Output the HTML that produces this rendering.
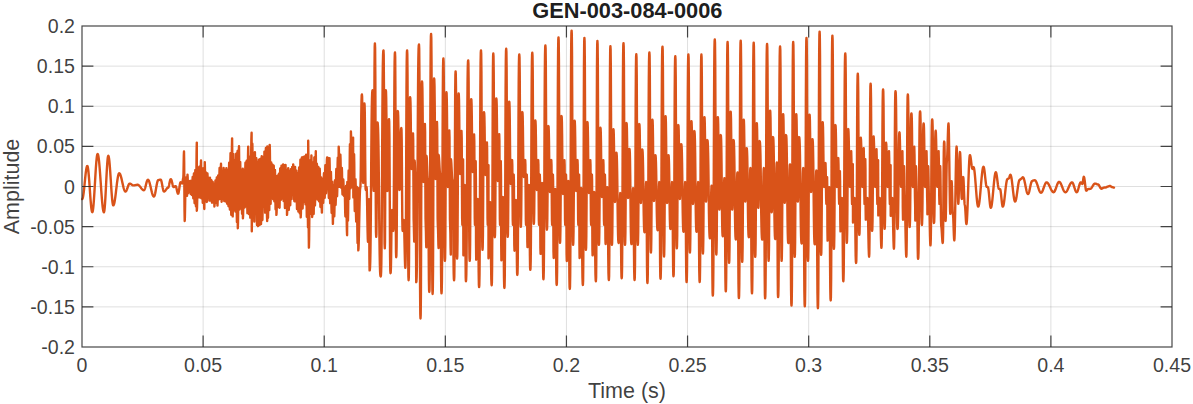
<!DOCTYPE html>
<html><head><meta charset="utf-8"><title>GEN-003-084-0006</title>
<style>html,body{margin:0;padding:0;background:#fff;overflow:hidden}svg{display:block}</style></head>
<body>
<svg width="1193" height="404" viewBox="0 0 1193 404">
<rect width="1193" height="404" fill="#fff"/>
<path d="M203.11,26 V347 M324.22,26 V347 M445.33,26 V347 M566.44,26 V347 M687.56,26 V347 M808.67,26 V347 M929.78,26 V347 M1050.89,26 V347 M82,66.12 H1172 M82,106.25 H1172 M82,146.38 H1172 M82,186.50 H1172 M82,226.62 H1172 M82,266.75 H1172 M82,306.88 H1172" stroke="#262626" stroke-opacity="0.15" stroke-width="1" fill="none"/>
<path d="M82.20,199.00 82.41,198.86 82.62,198.44 82.84,197.74 83.05,196.79 83.26,195.59 83.47,194.16 83.69,192.54 83.90,190.75 84.11,188.81 84.33,186.76 84.54,184.64 84.75,182.49 84.96,180.34 85.17,178.22 85.39,176.17 85.60,174.24 85.81,172.44 86.03,170.82 86.24,169.39 86.45,168.19 86.66,167.24 86.88,166.54 87.09,166.12 87.30,165.98 87.52,166.20 87.73,166.84 87.95,167.89 88.17,169.35 88.39,171.17 88.60,173.32 88.82,175.77 89.04,178.46 89.26,181.36 89.47,184.40 89.69,187.52 89.91,190.68 90.13,193.80 90.34,196.84 90.56,199.74 90.78,202.43 91.00,204.88 91.21,207.03 91.43,208.85 91.65,210.31 91.87,211.36 92.08,212.00 92.30,212.22 92.51,211.99 92.72,211.31 92.94,210.18 93.15,208.62 93.36,206.66 93.57,204.33 93.78,201.66 94.00,198.70 94.21,195.50 94.42,192.10 94.63,188.56 94.84,184.93 95.06,181.27 95.27,177.64 95.48,174.10 95.69,170.70 95.90,167.50 96.12,164.54 96.33,161.87 96.54,159.54 96.75,157.58 96.96,156.02 97.18,154.89 97.39,154.21 97.60,153.98 97.82,154.15 98.03,154.66 98.25,155.50 98.47,156.67 98.69,158.15 98.90,159.92 99.12,161.96 99.34,164.25 99.56,166.76 99.77,169.46 99.99,172.32 100.21,175.31 100.42,178.39 100.64,181.52 100.86,184.68 101.08,187.81 101.29,190.89 101.51,193.88 101.73,196.74 101.94,199.44 102.16,201.95 102.38,204.24 102.60,206.28 102.81,208.05 103.03,209.53 103.25,210.70 103.47,211.54 103.68,212.05 103.90,212.22 104.12,211.87 104.34,210.84 104.56,209.15 104.78,206.84 105.00,203.97 105.22,200.61 105.44,196.84 105.66,192.76 105.88,188.46 106.10,184.05 106.32,179.64 106.54,175.34 106.76,171.26 106.98,167.49 107.20,164.13 107.42,161.26 107.64,158.95 107.86,157.26 108.08,156.23 108.30,155.88 108.52,156.11 108.73,156.80 108.95,157.93 109.17,159.48 109.39,161.42 109.60,163.73 109.82,166.34 110.04,169.23 110.26,172.32 110.47,175.57 110.69,178.91 110.91,182.29 111.13,185.63 111.34,188.88 111.56,191.97 111.78,194.86 112.00,197.47 112.21,199.78 112.43,201.72 112.65,203.27 112.87,204.40 113.08,205.09 113.30,205.32 113.52,205.21 113.74,204.89 113.96,204.35 114.17,203.62 114.39,202.68 114.61,201.57 114.83,200.29 115.05,198.87 115.27,197.31 115.49,195.65 115.70,193.89 115.92,192.08 116.14,190.23 116.36,188.37 116.58,186.52 116.80,184.71 117.01,182.95 117.23,181.29 117.45,179.73 117.67,178.31 117.89,177.03 118.11,175.92 118.33,174.98 118.54,174.25 118.76,173.71 118.98,173.39 119.20,173.28 119.42,173.33 119.63,173.49 119.85,173.76 120.07,174.12 120.29,174.59 120.50,175.14 120.72,175.78 120.94,176.50 121.16,177.28 121.37,178.13 121.59,179.02 121.81,179.96 122.02,180.92 122.24,181.91 122.46,182.89 122.68,183.88 122.89,184.84 123.11,185.78 123.33,186.67 123.54,187.52 123.76,188.30 123.98,189.02 124.20,189.66 124.41,190.21 124.63,190.68 124.85,191.04 125.07,191.31 125.28,191.47 125.50,191.52 125.71,191.47 125.92,191.33 126.13,191.09 126.34,190.76 126.55,190.36 126.76,189.88 126.97,189.35 127.18,188.78 127.39,188.17 127.60,187.55 127.81,186.93 128.02,186.32 128.23,185.75 128.44,185.22 128.65,184.74 128.86,184.34 129.07,184.01 129.28,183.77 129.49,183.63 129.70,183.58 129.92,183.60 130.14,183.64 130.35,183.72 130.57,183.82 130.79,183.95 131.01,184.09 131.22,184.25 131.44,184.42 131.66,184.58 131.88,184.75 132.09,184.91 132.31,185.05 132.53,185.18 132.75,185.28 132.96,185.36 133.18,185.40 133.40,185.42 133.61,185.42 133.82,185.40 134.03,185.39 134.24,185.36 134.45,185.33 134.66,185.29 134.87,185.25 135.08,185.20 135.29,185.15 135.50,185.10 135.71,185.05 135.92,185.00 136.13,184.95 136.34,184.91 136.55,184.87 136.76,184.84 136.97,184.81 137.18,184.80 137.39,184.78 137.60,184.78 137.82,184.80 138.03,184.84 138.25,184.92 138.47,185.03 138.69,185.17 138.90,185.33 139.12,185.53 139.34,185.74 139.56,185.97 139.77,186.23 139.99,186.49 140.21,186.77 140.42,187.06 140.64,187.35 140.86,187.65 141.08,187.94 141.29,188.23 141.51,188.51 141.73,188.77 141.94,189.03 142.16,189.26 142.38,189.47 142.60,189.67 142.81,189.83 143.03,189.97 143.25,190.08 143.47,190.16 143.68,190.20 143.90,190.22 144.11,190.15 144.32,189.94 144.53,189.59 144.74,189.12 144.95,188.54 145.16,187.86 145.37,187.10 145.58,186.28 145.79,185.43 146.01,184.57 146.22,183.72 146.43,182.90 146.64,182.14 146.85,181.46 147.06,180.88 147.27,180.41 147.48,180.06 147.69,179.85 147.90,179.78 148.11,179.83 148.33,179.99 148.54,180.25 148.76,180.61 148.97,181.06 149.19,181.61 149.40,182.23 149.61,182.93 149.83,183.70 150.04,184.52 150.26,185.39 150.47,186.29 150.69,187.21 150.90,188.15 151.11,189.09 151.33,190.01 151.54,190.91 151.76,191.78 151.97,192.60 152.19,193.37 152.40,194.07 152.61,194.69 152.83,195.24 153.04,195.69 153.26,196.05 153.47,196.31 153.69,196.47 153.90,196.52 154.11,196.43 154.32,196.15 154.53,195.71 154.74,195.09 154.95,194.33 155.16,193.43 155.37,192.41 155.58,191.30 155.79,190.13 156.00,188.91 156.20,187.69 156.41,186.47 156.62,185.30 156.83,184.19 157.04,183.17 157.25,182.27 157.46,181.51 157.67,180.89 157.88,180.45 158.09,180.17 158.30,180.08 158.51,180.07 158.72,180.04 158.93,180.00 159.14,179.94 159.35,179.87 159.55,179.81 159.76,179.74 159.97,179.68 160.18,179.64 160.39,179.61 160.60,179.60 160.81,179.71 161.03,180.05 161.24,180.60 161.45,181.35 161.66,182.25 161.88,183.28 162.09,184.40 162.30,185.56 162.51,186.72 162.72,187.84 162.94,188.87 163.15,189.77 163.36,190.52 163.57,191.07 163.79,191.41 164.00,191.52 164.21,191.49 164.42,191.42 164.63,191.30 164.84,191.13 165.05,190.92 165.26,190.68 165.47,190.41 165.68,190.12 165.89,189.81 166.11,189.51 166.32,189.20 166.53,188.91 166.74,188.64 166.95,188.40 167.16,188.19 167.37,188.02 167.58,187.90 167.79,187.83 168.00,187.80 168.22,187.67 168.43,187.31 168.65,186.72 168.86,185.94 169.08,185.02 169.29,184.01 169.51,182.97 169.72,181.96 169.94,181.04 170.15,180.26 170.37,179.67 170.58,179.31 170.80,179.18 171.01,179.28 171.21,179.57 171.42,180.05 171.63,180.67 171.84,181.43 172.04,182.27 172.25,183.15 172.46,184.03 172.66,184.87 172.87,185.63 173.08,186.25 173.29,186.73 173.49,187.02 173.70,187.12 173.91,187.09 174.12,187.00 174.33,186.86 174.54,186.69 174.76,186.51 174.97,186.34 175.18,186.20 175.39,186.11 175.60,186.08 175.81,186.21 176.02,186.59 176.22,187.20 176.43,187.99 176.64,188.91 176.85,189.90 177.06,190.89 177.27,191.81 177.47,192.60 177.68,193.21 177.89,193.59 178.10,193.72 178.31,193.53 178.52,192.95 178.72,192.04 178.93,190.86 179.14,189.48 179.35,188.00 179.56,186.52 179.77,185.14 179.97,183.96 180.18,183.05 180.39,182.47 180.60,182.28 180.80,182.32 181.00,182.45 181.20,182.63 181.40,182.85 181.60,183.07 181.80,183.25 182.00,183.38 182.20,183.42 182.38,183.06 182.57,182.06 182.75,180.71 182.93,179.35 183.12,178.36 183.30,178.00 183.48,174.12 183.65,164.74 183.82,155.36 184.00,151.48 184.18,161.66 184.35,186.25 184.52,210.84 184.70,221.02 184.88,217.68 185.06,208.92 185.24,198.10 185.42,189.34 185.60,186.00 185.80,183.89 186.00,179.66 186.20,177.54 186.40,180.23 186.60,186.73 186.80,193.23 187.00,195.92 187.17,190.61 187.33,179.99 187.50,174.68 187.67,177.39 187.84,183.95 188.01,190.50 188.18,193.21 188.38,190.18 188.59,184.10 188.79,181.07 188.96,182.64 189.13,186.43 189.31,190.22 189.48,191.80 189.70,189.11 189.92,183.74 190.14,181.06 190.34,184.32 190.54,190.84 190.75,194.10 190.92,192.14 191.09,187.39 191.26,182.64 191.43,180.67 191.63,184.28 191.83,191.51 192.03,195.12 192.20,192.44 192.37,185.98 192.53,179.52 192.70,176.84 192.91,182.23 193.11,193.01 193.31,198.40 193.52,192.16 193.72,179.67 193.93,173.43 194.09,177.80 194.26,188.36 194.43,198.92 194.60,203.30 194.78,198.42 194.96,186.64 195.14,174.86 195.33,169.98 195.53,179.05 195.74,197.19 195.95,206.26 196.16,196.94 196.37,174.42 196.59,151.91 196.80,142.58 196.80,210.72 197.01,207.86 197.21,200.05 197.42,189.38 197.62,178.71 197.83,170.90 198.04,168.04 198.21,172.32 198.38,182.67 198.55,193.02 198.73,197.30 198.89,192.83 199.06,182.04 199.23,171.24 199.39,166.77 199.58,171.28 199.77,182.18 199.96,193.07 200.15,197.58 200.36,192.15 200.57,179.03 200.79,165.91 201.00,160.48 201.16,169.93 201.33,188.82 201.49,198.27 201.71,190.77 201.92,175.78 202.14,168.29 202.35,176.89 202.55,194.10 202.76,202.70 202.97,194.12 203.17,176.97 203.38,168.40 203.56,172.28 203.75,182.43 203.93,194.98 204.12,205.14 204.30,209.02 204.47,197.28 204.63,173.81 204.80,162.08 205.00,171.89 205.19,191.52 205.39,201.34 205.56,197.11 205.74,186.89 205.91,176.67 206.08,172.44 206.26,176.77 206.43,187.23 206.61,197.69 206.78,202.03 207.00,194.91 207.22,180.68 207.44,173.56 207.62,176.88 207.79,184.88 207.96,192.89 208.13,196.20 208.34,191.61 208.54,182.41 208.74,177.82 208.94,183.52 209.15,194.93 209.35,200.63 209.56,194.92 209.77,183.48 209.98,177.76 210.16,181.08 210.34,189.10 210.52,197.12 210.69,200.44 210.86,197.48 211.03,190.34 211.19,183.20 211.36,180.24 211.58,185.85 211.80,197.09 212.01,202.70 212.19,199.66 212.36,192.30 212.53,184.94 212.71,181.90 212.87,184.90 213.04,192.14 213.21,199.38 213.38,202.38 213.59,197.85 213.81,188.80 214.03,184.27 214.21,195.39 214.40,206.52 214.61,204.04 214.83,197.54 215.04,189.50 215.25,183.00 215.46,180.51 215.68,186.12 215.89,197.32 216.10,202.92 216.28,199.21 216.45,190.25 216.62,181.28 216.80,177.57 216.97,181.68 217.14,191.61 217.31,201.54 217.48,205.65 217.66,201.21 217.85,190.50 218.03,179.79 218.22,175.35 218.40,178.86 218.58,187.35 218.76,195.83 218.94,199.35 219.15,191.52 219.37,175.88 219.58,168.06 219.77,172.55 219.96,183.40 220.15,194.25 220.34,198.74 220.50,193.62 220.67,181.26 220.83,168.90 221.00,163.78 221.21,173.27 221.42,192.24 221.63,201.72 221.81,197.40 221.99,186.96 222.17,176.53 222.35,172.20 222.55,178.88 222.76,192.23 222.97,198.90 223.14,194.36 223.31,183.41 223.48,172.45 223.65,167.91 223.85,176.18 224.05,192.74 224.26,201.01 224.43,196.49 224.61,185.56 224.79,174.64 224.96,170.11 225.14,174.71 225.32,185.82 225.50,196.93 225.68,201.53 225.86,196.63 226.03,184.82 226.20,173.01 226.38,168.12 226.56,173.33 226.75,185.91 226.93,198.49 227.12,203.70 227.33,195.37 227.55,178.71 227.77,170.39 227.94,175.65 228.12,188.36 228.30,201.07 228.48,206.33 228.65,199.95 228.83,184.55 229.00,169.16 229.17,162.78 229.35,169.61 229.52,186.10 229.69,202.60 229.87,209.43 230.03,201.18 230.20,181.26 230.37,161.34 230.54,153.09 230.72,162.13 230.91,183.94 231.09,205.76 231.27,214.80 231.48,203.60 231.69,176.59 231.89,149.57 232.10,138.38 232.30,157.88 232.50,196.88 232.70,216.37 232.88,207.24 233.05,185.17 233.23,163.11 233.41,153.97 233.61,168.02 233.81,196.12 234.02,210.17 234.19,202.94 234.37,185.48 234.55,168.02 234.73,160.79 234.90,168.21 235.08,186.11 235.26,204.01 235.43,211.43 235.62,202.97 235.81,182.56 236.00,162.14 236.19,153.69 236.37,163.68 236.56,187.81 236.74,211.95 236.92,221.94 237.14,204.22 237.35,168.79 237.57,151.07 237.68,189.69 237.80,228.32 238.00,222.82 238.20,207.78 238.40,187.25 238.60,166.72 238.80,151.68 239.00,146.18 239.18,162.00 239.36,193.63 239.54,209.45 239.71,202.51 239.88,185.75 240.05,168.99 240.21,162.05 240.42,172.16 240.63,192.38 240.84,202.50 241.05,194.70 241.25,179.11 241.46,171.31 241.66,181.90 241.87,203.06 242.07,213.64 242.25,207.08 242.43,191.23 242.61,175.37 242.79,168.81 242.90,218.32 243.09,215.09 243.28,206.28 243.48,194.24 243.67,182.20 243.86,173.38 244.05,170.16 244.22,175.64 244.38,188.86 244.55,202.09 244.71,207.57 244.90,201.00 245.08,185.15 245.27,169.29 245.45,162.72 245.66,173.59 245.86,195.34 246.07,206.21 246.23,199.53 246.40,183.41 246.57,167.29 246.74,160.62 246.91,168.31 247.08,186.89 247.25,205.46 247.43,213.16 247.62,203.41 247.81,179.87 248.01,156.33 248.20,146.58 248.37,156.46 248.55,180.30 248.72,204.14 248.90,214.01 249.08,205.65 249.27,185.45 249.45,165.25 249.64,156.88 249.85,172.07 250.07,202.46 250.28,217.66 250.50,211.97 250.72,196.44 250.94,175.22 251.16,154.00 251.38,138.47 251.60,132.78 251.80,231.22 251.98,209.34 252.16,165.57 252.35,143.68 252.54,154.22 252.72,179.66 252.91,205.10 253.10,215.63 253.31,200.72 253.52,170.91 253.72,156.00 253.93,172.38 254.14,205.14 254.35,221.53 254.54,204.16 254.72,169.44 254.90,152.08 255.08,161.11 255.26,182.93 255.45,204.74 255.63,213.77 255.80,205.62 255.97,185.93 256.14,166.25 256.30,158.09 256.48,167.87 256.65,191.48 256.83,215.08 257.00,224.86 257.21,209.27 257.43,178.08 257.64,162.49 257.82,194.30 258.00,226.12 258.18,219.78 258.36,203.16 258.55,182.63 258.73,166.02 258.91,159.68 259.13,176.02 259.35,208.70 259.57,225.04 259.74,215.36 259.91,191.98 260.09,168.61 260.26,158.92 260.45,168.48 260.63,191.55 260.82,214.62 261.01,224.17 261.19,214.23 261.37,190.24 261.54,166.25 261.72,156.31 261.89,165.66 262.06,188.23 262.23,210.79 262.40,220.14 262.58,211.00 262.75,188.95 262.93,166.90 263.10,157.76 263.28,164.96 263.46,182.34 263.63,199.71 263.81,206.91 264.01,193.08 264.22,165.41 264.42,151.58 264.61,160.53 264.79,182.12 264.98,203.71 265.16,212.65 265.34,203.18 265.53,180.31 265.71,157.45 265.89,147.97 266.11,152.87 266.33,166.26 266.54,184.55 266.76,202.83 266.98,216.22 267.20,221.12 267.36,146.36 267.52,156.81 267.69,182.04 267.85,207.26 268.02,217.71 268.18,208.09 268.35,184.86 268.52,161.64 268.68,152.02 268.89,166.49 269.09,195.45 269.30,209.93 269.50,177.41 269.70,144.88 269.88,150.51 270.06,165.26 270.25,183.50 270.43,198.25 270.61,203.88 270.81,193.53 271.02,172.83 271.22,162.48 271.43,171.27 271.64,188.87 271.85,197.66 272.06,189.42 272.27,172.95 272.48,164.71 272.70,173.31 272.92,190.51 273.14,199.11 273.34,190.77 273.54,174.11 273.74,165.78 273.94,174.65 274.14,192.40 274.34,201.28 274.55,193.47 274.76,177.83 274.97,170.02 275.17,179.81 275.38,199.40 275.58,209.19 275.80,200.98 276.02,184.58 276.24,176.37 276.40,214.92 276.60,212.29 276.80,205.11 276.99,195.31 277.19,185.50 277.39,178.32 277.59,175.69 277.76,180.26 277.94,191.29 278.11,202.32 278.28,206.89 278.49,198.62 278.70,182.07 278.91,173.79 279.12,182.30 279.34,199.31 279.55,207.82 279.77,198.00 279.99,178.35 280.20,168.53 280.42,176.36 280.64,192.02 280.86,199.85 281.07,191.31 281.28,174.23 281.48,165.69 281.67,170.51 281.85,182.14 282.03,193.78 282.22,198.60 282.39,195.33 282.57,186.77 282.75,176.20 282.92,167.65 283.10,164.38 283.28,173.52 283.47,191.80 283.65,200.94 283.82,195.70 283.99,183.04 284.16,170.39 284.33,165.15 284.53,175.89 284.74,197.36 284.94,208.10 285.15,197.34 285.35,175.83 285.56,165.07 285.78,175.47 286.00,196.26 286.21,206.66 286.43,197.60 286.64,179.48 286.86,170.41 287.00,214.92 287.20,211.78 287.40,203.22 287.61,191.52 287.81,179.82 288.01,171.25 288.21,168.11 288.42,178.54 288.62,199.41 288.82,209.84 289.01,204.19 289.19,190.55 289.38,176.92 289.57,171.27 289.74,176.25 289.91,188.26 290.08,200.28 290.25,205.26 290.46,196.27 290.67,178.29 290.88,169.30 291.05,173.66 291.22,184.21 291.39,194.75 291.57,199.12 291.77,191.07 291.97,174.98 292.17,166.94 292.34,170.93 292.51,180.56 292.68,190.19 292.85,194.18 293.03,179.28 293.20,164.38 293.39,166.84 293.58,173.58 293.77,182.78 293.97,191.98 294.16,198.71 294.35,201.18 294.53,196.15 294.70,184.01 294.88,171.87 295.06,166.84 295.27,175.45 295.49,192.66 295.70,201.27 295.92,193.60 296.14,178.27 296.36,170.60 296.57,180.21 296.78,199.44 296.99,209.06 297.17,203.79 297.35,191.08 297.53,178.37 297.71,173.11 297.88,178.75 298.05,192.36 298.22,205.98 298.40,211.62 298.58,205.14 298.76,189.52 298.94,173.90 299.12,167.43 299.34,178.89 299.56,201.82 299.77,213.28 299.99,199.91 300.20,173.16 300.41,159.79 300.55,188.61 300.70,217.42 300.90,213.41 301.10,202.44 301.30,187.46 301.50,172.48 301.70,161.51 301.90,157.50 302.08,164.96 302.26,182.98 302.45,201.00 302.63,208.46 302.82,200.92 303.00,182.72 303.18,164.52 303.36,156.98 303.54,163.53 303.73,179.36 303.91,195.18 304.09,201.74 304.27,195.09 304.45,179.03 304.63,162.98 304.81,156.33 305.02,168.33 305.24,192.34 305.45,204.34 305.62,197.06 305.79,179.50 305.96,161.94 306.13,154.66 306.35,170.21 306.57,201.30 306.79,216.85 306.99,201.35 307.19,170.35 307.39,154.85 307.59,172.93 307.79,209.10 308.00,227.18 308.20,140.68 308.38,156.34 308.55,194.15 308.72,231.96 308.90,247.62 309.12,239.29 309.34,217.46 309.56,190.49 309.77,168.67 309.99,160.34 310.18,168.15 310.37,187.01 310.56,205.87 310.75,213.68 310.91,205.16 311.08,184.59 311.25,164.01 311.42,155.49 311.61,164.51 311.79,186.29 311.98,208.07 312.17,217.09 312.36,209.12 312.55,189.88 312.74,170.64 312.93,162.67 313.11,170.20 313.30,188.39 313.49,206.57 313.68,214.10 313.90,199.92 314.12,171.56 314.34,157.39 314.55,169.40 314.76,193.42 314.97,205.43 315.18,197.50 315.39,178.35 315.59,159.21 315.80,151.28 315.95,162.91 316.09,186.16 316.24,197.79 316.45,189.28 316.66,172.27 316.87,163.77 317.05,169.02 317.22,181.69 317.40,194.37 317.57,199.62 317.76,194.84 317.94,183.31 318.13,171.78 318.32,167.01 318.50,172.04 318.68,184.19 318.87,196.34 319.05,201.37 319.22,196.59 319.39,185.05 319.56,173.50 319.73,168.72 319.90,174.31 320.08,187.82 320.26,201.33 320.43,206.93 320.61,202.60 320.80,192.14 320.98,181.69 321.16,177.36 321.35,182.53 321.53,194.99 321.72,207.46 321.90,212.62 322.09,204.48 322.29,188.20 322.48,180.06 322.67,183.41 322.85,191.49 323.04,199.57 323.23,202.92 323.41,198.57 323.59,188.07 323.77,177.56 323.95,173.21 324.13,176.82 324.31,185.54 324.49,194.25 324.67,197.86 324.84,193.09 325.01,181.58 325.18,170.06 325.35,165.29 325.56,172.31 325.77,186.34 325.98,193.35 326.16,190.95 326.35,184.38 326.54,175.42 326.73,166.45 326.91,159.88 327.10,157.48 327.23,172.83 327.35,188.19 327.54,183.75 327.72,173.03 327.90,162.31 328.08,157.87 328.27,163.74 328.46,177.92 328.65,192.11 328.84,197.98 329.00,192.15 329.17,178.06 329.34,163.97 329.50,158.13 329.67,164.73 329.83,180.64 330.00,196.56 330.17,203.15 330.35,198.57 330.54,187.52 330.73,176.46 330.92,171.88 331.10,177.91 331.28,192.47 331.45,207.03 331.63,213.06 331.84,205.19 332.05,189.45 332.26,181.58 332.47,192.16 332.69,213.33 332.90,223.92 333.10,214.37 333.30,195.26 333.51,185.71 333.69,190.20 333.88,201.06 334.06,211.92 334.25,216.42 334.43,211.11 334.61,198.30 334.80,185.49 334.98,180.18 335.19,186.38 335.39,198.76 335.60,204.96 335.79,199.68 335.97,186.95 336.15,174.23 336.33,168.95 336.52,172.94 336.71,182.57 336.90,192.20 337.09,196.19 337.27,190.54 337.44,176.90 337.62,163.26 337.80,157.61 338.02,164.94 338.23,179.59 338.45,186.92 338.58,166.80 338.70,146.68 338.91,150.52 339.12,160.57 339.34,173.00 339.55,183.05 339.76,186.89 339.96,178.84 340.16,162.72 340.36,154.67 340.55,159.51 340.74,171.19 340.93,182.87 341.12,187.70 341.30,184.81 341.47,177.81 341.65,170.81 341.82,167.91 341.99,171.80 342.17,181.17 342.34,190.55 342.51,194.44 342.69,192.23 342.88,186.90 343.07,181.56 343.26,179.35 343.42,181.78 343.59,187.64 343.76,193.49 343.93,195.92 344.11,194.81 344.30,192.12 344.48,189.44 344.67,188.33 344.85,192.46 345.03,202.43 345.21,212.40 345.40,216.53 345.61,208.91 345.82,193.68 346.03,186.06 346.25,190.76 346.46,203.05 346.67,218.24 346.89,230.53 347.10,235.22 347.32,181.89 347.53,191.59 347.74,210.99 347.96,220.69 348.13,213.34 348.30,195.60 348.48,177.86 348.65,170.51 348.86,177.66 349.08,191.94 349.29,199.08 349.46,191.04 349.63,171.61 349.79,152.19 349.96,144.14 350.17,155.15 350.37,177.18 350.58,188.19 350.74,159.83 350.90,131.48 351.12,136.79 351.33,150.70 351.55,167.89 351.77,181.80 351.98,187.12 352.17,183.80 352.36,174.73 352.54,162.35 352.73,149.96 352.91,140.90 353.10,137.58 353.22,167.50 353.35,197.41 353.54,191.10 353.72,175.86 353.91,160.62 354.09,154.30 354.26,162.60 354.43,182.64 354.59,202.67 354.76,210.97 354.95,206.32 355.13,195.08 355.32,183.85 355.51,179.20 355.68,185.39 355.85,200.34 356.02,215.28 356.19,221.47 356.36,216.43 356.53,204.25 356.70,192.08 356.87,187.03 357.04,195.21 357.22,214.96 357.39,234.71 357.56,242.89 357.76,229.19 357.96,201.79 358.16,188.09 358.30,250.42 358.51,248.54 358.72,243.12 358.93,234.81 359.14,224.63 359.36,213.79 359.57,203.61 359.78,195.30 359.99,189.88 360.20,188.00 360.41,186.95 360.62,181.08 360.84,165.93 361.05,141.24 361.26,116.55 361.47,101.40 361.69,95.53 361.90,94.48 362.12,96.61 362.33,109.41 362.55,138.70 362.77,167.99 362.98,180.79 363.20,182.92 363.40,181.01 363.60,169.51 363.80,143.20 364.00,116.89 364.20,105.39 364.40,103.48 364.60,104.86 364.80,112.85 365.00,132.90 365.20,160.50 365.40,180.55 365.60,188.54 365.80,189.92 366.00,189.50 366.20,188.50 366.40,187.50 366.60,187.08 366.80,189.80 367.00,197.40 367.20,208.40 367.40,220.60 367.60,231.60 367.80,239.20 368.00,241.92 368.20,237.83 368.40,227.12 368.60,213.88 368.80,203.17 369.00,199.08 369.20,211.12 369.40,258.38 369.60,270.42 369.81,269.93 370.03,267.54 370.24,261.78 370.46,250.90 370.67,233.39 370.89,209.11 371.10,180.35 371.31,151.59 371.53,127.31 371.74,109.80 371.96,98.92 372.17,93.16 372.39,90.77 372.60,90.28 372.82,94.27 373.04,118.70 373.26,162.50 373.48,186.93 373.70,190.92 373.90,187.37 374.10,166.02 374.30,117.15 374.50,68.28 374.70,46.93 374.90,43.38 375.12,48.04 375.33,76.05 375.55,140.15 375.77,204.25 375.98,232.26 376.20,236.92 376.40,234.16 376.60,217.59 376.80,179.65 377.00,141.71 377.20,125.14 377.40,122.38 377.61,122.68 377.81,124.11 378.02,127.49 378.22,133.78 378.43,143.98 378.64,158.73 378.84,177.74 379.05,199.40 379.26,221.06 379.46,240.07 379.67,254.82 379.88,265.02 380.08,271.31 380.29,274.69 380.49,276.12 380.70,276.42 380.92,275.68 381.13,272.03 381.35,263.08 381.56,246.11 381.78,219.16 381.99,183.23 382.21,143.57 382.42,107.64 382.64,80.69 382.85,63.72 383.07,54.77 383.28,51.12 383.50,50.38 383.72,55.15 383.93,83.81 384.15,149.40 384.37,214.99 384.58,243.65 384.80,248.42 385.00,242.16 385.20,203.76 385.40,134.94 385.60,96.54 385.80,90.28 386.00,91.41 386.20,97.73 386.40,114.03 386.60,140.60 386.80,167.17 387.00,183.47 387.20,189.79 387.40,190.92 387.60,190.11 387.80,185.61 388.00,173.99 388.20,155.05 388.40,136.11 388.60,124.49 388.80,119.99 389.00,119.18 389.21,121.64 389.43,135.87 389.64,171.61 389.86,220.79 390.07,256.53 390.29,270.76 390.50,273.22 390.70,272.51 390.90,268.55 391.10,258.32 391.30,241.65 391.50,224.98 391.70,214.75 391.90,210.79 392.10,210.08 392.32,212.07 392.54,217.28 392.76,223.72 392.98,228.93 393.20,230.92 393.40,229.44 393.60,221.45 393.80,200.80 394.00,164.11 394.20,119.29 394.40,82.60 394.60,61.95 394.80,53.96 395.00,52.48 395.20,57.41 395.40,87.04 395.60,154.85 395.80,222.66 396.00,252.29 396.20,257.22 396.40,255.58 396.60,246.41 396.80,222.74 397.00,184.15 397.20,145.56 397.40,121.89 397.60,112.72 397.80,111.08 398.01,111.97 398.23,116.91 398.44,129.68 398.65,150.50 398.86,171.32 399.07,184.09 399.29,189.03 399.50,189.92 399.70,189.41 399.90,186.64 400.10,179.48 400.30,166.76 400.50,151.24 400.70,138.52 400.90,131.36 401.10,128.59 401.30,128.08 401.50,129.72 401.70,139.23 401.90,163.08 402.10,195.92 402.30,219.77 402.50,229.28 402.70,230.92 402.88,230.19 403.07,228.21 403.25,225.50 403.43,222.79 403.62,220.81 403.80,220.08 404.01,222.45 404.23,229.09 404.44,238.68 404.66,249.32 404.87,258.91 405.09,265.55 405.30,267.92 405.50,266.11 405.70,256.37 405.90,231.20 406.10,186.47 406.30,131.83 406.50,87.10 406.70,61.93 406.90,52.19 407.10,50.38 407.31,54.05 407.53,75.29 407.74,128.61 407.96,201.99 408.17,255.31 408.39,276.55 408.60,280.22 408.81,277.30 409.03,260.38 409.24,217.92 409.46,159.48 409.67,117.02 409.89,100.10 410.10,97.18 410.30,97.99 410.50,102.49 410.70,114.11 410.90,133.05 411.10,151.99 411.30,163.61 411.50,168.11 411.70,168.92 411.92,166.54 412.13,160.03 412.35,151.13 412.57,142.24 412.78,135.72 413.00,133.34 413.21,140.20 413.43,179.67 413.64,219.14 413.85,226.00 414.02,233.75 414.20,241.51 414.40,201.11 414.60,160.71 414.80,162.61 415.00,167.78 415.20,174.85 415.40,181.93 415.60,187.10 415.80,189.00 416.00,235.56 416.20,282.12 416.42,281.34 416.63,277.50 416.85,268.10 417.06,250.25 417.28,221.92 417.49,184.15 417.71,142.45 417.92,104.68 418.14,76.35 418.35,58.50 418.57,49.10 418.78,45.26 419.00,44.48 419.21,48.86 419.43,74.18 419.64,137.75 419.86,225.25 420.07,288.82 420.29,314.14 420.50,318.52 420.71,314.73 420.93,292.83 421.14,237.84 421.36,162.16 421.57,107.17 421.79,85.27 422.00,81.48 422.20,82.61 422.40,88.91 422.60,105.18 422.80,131.70 423.00,158.22 423.20,174.49 423.40,180.79 423.60,181.92 423.82,178.03 424.03,167.42 424.25,152.92 424.47,138.42 424.68,127.81 424.90,123.92 425.11,131.47 425.32,174.96 425.54,218.45 425.75,226.00 425.93,231.30 426.12,241.89 426.30,247.19 426.50,156.00 426.70,157.19 426.90,160.52 427.10,165.33 427.30,170.67 427.50,175.48 427.70,178.81 427.90,180.00 428.10,181.79 428.30,192.13 428.50,218.09 428.70,253.83 428.90,279.79 429.10,290.13 429.30,291.92 429.50,289.78 429.70,278.23 429.90,248.38 430.10,195.34 430.30,130.56 430.50,77.52 430.70,47.67 430.90,36.12 431.10,33.98 431.31,38.13 431.53,62.16 431.74,122.49 431.96,205.51 432.17,265.84 432.39,289.87 432.60,294.02 432.81,290.58 433.03,270.65 433.24,220.62 433.46,151.78 433.67,101.75 433.89,81.82 434.10,78.38 434.30,79.51 434.50,85.82 434.70,102.10 434.90,128.65 435.10,155.20 435.30,171.48 435.50,177.79 435.70,178.92 435.92,175.11 436.13,164.70 436.35,150.49 436.57,136.28 436.78,125.87 437.00,122.06 437.21,129.75 437.43,174.03 437.64,218.31 437.85,226.00 438.04,229.23 438.23,237.03 438.41,244.83 438.60,248.06 438.60,155.07 438.80,155.79 439.00,157.84 439.20,160.91 439.40,164.53 439.60,168.16 439.80,171.23 440.00,173.28 440.20,174.00 440.42,176.88 440.63,194.16 440.85,233.71 441.07,273.26 441.28,290.54 441.50,293.42 441.71,291.47 441.92,280.95 442.13,253.76 442.34,205.45 442.56,146.45 442.77,98.14 442.98,70.95 443.19,60.43 443.40,58.48 443.61,61.71 443.83,80.42 444.04,127.38 444.26,192.02 444.47,238.98 444.69,257.69 444.90,260.92 445.11,258.23 445.33,242.63 445.54,203.49 445.76,149.61 445.97,110.47 446.19,94.87 446.40,92.18 446.60,93.25 446.80,99.19 447.00,114.54 447.20,139.55 447.40,164.56 447.60,179.91 447.80,185.85 448.00,186.92 448.22,183.13 448.43,172.78 448.65,158.63 448.87,144.49 449.08,134.13 449.30,130.34 449.51,137.42 449.72,178.17 449.94,218.92 450.15,226.00 450.37,233.16 450.58,247.47 450.80,254.62 450.90,159.21 451.11,160.24 451.33,163.12 451.54,167.29 451.76,171.92 451.97,176.09 452.19,178.97 452.40,180.00 452.61,181.13 452.83,187.42 453.04,203.65 453.25,230.11 453.46,256.57 453.68,272.80 453.89,279.09 454.10,280.22 454.31,276.89 454.53,257.59 454.74,209.14 454.96,142.46 455.17,94.01 455.39,74.71 455.60,71.38 455.81,74.37 456.03,91.67 456.24,135.11 456.46,194.89 456.67,238.33 456.89,255.63 457.10,258.62 457.31,255.98 457.53,240.71 457.74,202.38 457.96,149.62 458.17,111.29 458.39,96.02 458.60,93.38 458.80,94.29 459.00,99.34 459.20,112.39 459.40,133.65 459.60,154.91 459.80,167.96 460.00,173.01 460.20,173.92 460.42,171.05 460.63,163.20 460.85,152.49 461.07,141.78 461.28,133.93 461.50,131.06 461.71,138.01 461.93,177.99 462.14,217.97 462.35,224.92 462.54,220.08 462.73,192.25 462.91,164.41 463.10,159.57 463.25,207.46 463.40,255.35 463.60,254.56 463.80,250.15 464.00,238.77 464.20,220.22 464.40,201.66 464.60,190.28 464.80,185.87 465.00,185.08 465.18,188.89 465.36,212.23 465.54,254.07 465.72,277.41 465.90,281.22 466.11,280.12 466.32,274.49 466.53,260.28 466.74,233.44 466.95,193.62 467.15,147.98 467.36,108.16 467.57,81.32 467.78,67.11 467.99,61.48 468.20,60.38 468.41,63.58 468.63,82.11 468.84,128.64 469.06,192.66 469.27,239.19 469.49,257.72 469.70,260.92 469.91,258.34 470.13,243.38 470.34,205.84 470.56,154.16 470.77,116.62 470.99,101.66 471.20,99.08 471.40,99.90 471.60,104.47 471.80,116.27 472.00,135.50 472.20,154.73 472.40,166.53 472.60,171.10 472.80,171.92 473.02,169.41 473.23,162.56 473.45,153.20 473.67,143.84 473.88,136.99 474.10,134.48 474.31,141.17 474.52,179.70 474.74,218.23 474.95,224.92 475.14,220.21 475.32,193.10 475.51,165.99 475.70,161.28 475.87,177.89 476.03,243.06 476.20,259.66 476.40,258.98 476.60,255.18 476.80,245.37 477.00,229.37 477.20,213.38 477.40,203.56 477.60,199.76 477.80,199.08 478.02,201.20 478.23,213.94 478.45,243.10 478.67,272.26 478.88,285.00 479.10,287.12 479.31,285.15 479.52,274.55 479.73,247.16 479.94,198.48 480.16,139.02 480.37,90.34 480.58,62.95 480.79,52.35 481.00,50.38 481.21,53.57 481.43,72.00 481.64,118.30 481.86,182.00 482.07,228.30 482.29,246.73 482.50,249.92 482.71,247.72 482.93,235.00 483.14,203.07 483.36,159.13 483.57,127.20 483.79,114.48 484.00,112.28 484.20,112.99 484.40,116.92 484.60,127.06 484.80,143.60 485.00,160.14 485.20,170.28 485.40,174.21 485.60,174.92 485.82,172.74 486.03,166.79 486.25,158.66 486.47,150.53 486.68,144.58 486.90,142.40 487.11,148.51 487.32,183.66 487.54,218.81 487.75,224.92 487.94,216.18 488.12,195.08 488.31,173.98 488.50,165.24 488.50,258.27 488.70,256.14 488.90,250.04 489.10,240.93 489.30,230.18 489.50,219.42 489.70,210.31 489.90,204.22 490.10,202.08 490.30,203.02 490.50,208.23 490.70,221.70 490.90,243.65 491.10,265.60 491.30,279.07 491.50,284.28 491.70,285.22 491.90,282.61 492.10,268.07 492.30,230.54 492.50,169.35 492.70,108.16 492.90,70.63 493.10,56.09 493.30,53.48 493.51,56.41 493.73,73.39 493.94,116.02 494.16,174.68 494.37,217.31 494.59,234.29 494.80,237.22 495.01,235.00 495.23,222.18 495.44,190.00 495.66,145.70 495.87,113.52 496.09,100.70 496.30,98.48 496.50,99.41 496.70,104.58 496.90,117.93 497.10,139.70 497.30,161.47 497.50,174.82 497.70,179.99 497.90,180.92 498.12,177.78 498.33,169.22 498.55,157.52 498.77,145.82 498.98,137.26 499.20,134.12 499.41,140.84 499.62,179.52 499.84,218.20 500.05,224.92 500.24,220.20 500.43,193.01 500.61,165.82 500.80,161.10 501.00,177.83 501.20,243.51 501.40,260.25 501.60,259.53 501.80,255.57 502.00,245.34 502.20,228.66 502.40,211.99 502.60,201.75 502.80,197.79 503.00,197.08 503.20,198.53 503.40,206.92 503.60,228.00 503.80,257.00 504.00,278.08 504.20,286.47 504.40,287.92 504.60,285.93 504.80,275.23 505.00,247.56 505.20,198.38 505.40,138.32 505.60,89.14 505.80,61.47 506.00,50.77 506.20,48.78 506.41,51.78 506.63,69.17 506.84,112.82 507.06,172.88 507.27,216.53 507.49,233.92 507.70,236.92 507.91,234.76 508.13,222.25 508.34,190.86 508.56,147.64 508.77,116.25 508.99,103.74 509.20,101.58 509.40,102.51 509.60,107.67 509.80,121.01 510.00,142.75 510.20,164.49 510.40,177.83 510.60,182.99 510.80,183.92 511.02,182.32 511.23,177.96 511.45,172.00 511.67,166.04 511.88,161.68 512.10,160.08 512.31,164.88 512.53,192.50 512.74,220.12 512.95,224.92 513.14,217.55 513.33,199.75 513.51,181.95 513.70,174.58 513.90,180.22 514.10,212.67 514.30,245.12 514.50,250.75 514.70,248.83 514.90,243.33 515.10,235.11 515.30,225.42 515.50,215.72 515.70,207.50 515.90,202.01 516.10,200.08 516.30,201.88 516.50,212.71 516.70,237.50 516.90,262.29 517.10,273.12 517.30,274.92 517.50,273.52 517.70,266.19 517.90,247.43 518.10,212.67 518.30,164.70 518.50,116.73 518.70,81.97 518.90,63.21 519.10,55.88 519.30,54.48 519.51,57.23 519.73,73.17 519.94,113.17 520.16,168.23 520.37,208.23 520.59,224.17 520.80,226.92 521.01,225.09 521.23,214.47 521.44,187.83 521.66,151.17 521.87,124.53 522.09,113.91 522.30,112.08 522.50,112.81 522.70,116.88 522.90,127.38 523.10,144.50 523.30,161.62 523.50,172.12 523.70,176.19 523.90,176.92 524.12,175.79 524.33,172.71 524.55,168.50 524.77,164.29 524.98,161.21 525.20,160.08 525.41,164.88 525.62,192.50 525.84,220.12 526.05,224.92 526.24,217.55 526.42,199.75 526.61,181.95 526.80,174.58 526.97,179.95 527.15,210.84 527.33,241.74 527.50,247.10 527.70,246.41 527.90,242.52 528.10,232.47 528.30,216.09 528.50,199.72 528.70,189.67 528.90,185.78 529.10,185.08 529.30,187.12 529.50,199.40 529.70,227.50 529.90,255.60 530.10,267.88 530.30,269.92 530.50,268.54 530.70,261.32 530.90,242.85 531.10,208.60 531.30,161.35 531.50,114.10 531.70,79.85 531.90,61.38 532.10,54.16 532.30,52.78 532.51,55.51 532.73,71.33 532.94,111.03 533.16,165.67 533.37,205.37 533.59,221.19 533.80,223.92 534.01,222.27 534.23,212.71 534.44,188.71 534.66,155.69 534.87,131.69 535.09,122.13 535.30,120.48 535.50,121.26 535.70,125.62 535.90,136.87 536.10,155.20 536.30,173.53 536.50,184.78 536.70,189.14 536.90,189.92 537.12,187.92 537.33,182.46 537.55,175.00 537.77,167.54 537.98,162.08 538.20,160.08 538.41,164.88 538.62,192.50 538.84,220.12 539.05,224.92 539.24,217.55 539.42,199.75 539.61,181.95 539.80,174.58 540.00,180.45 540.20,214.24 540.40,248.02 540.60,253.89 540.80,253.10 541.00,248.65 541.20,237.18 541.40,218.49 541.60,199.79 541.80,188.32 542.00,183.88 542.20,183.08 542.40,185.40 542.60,199.31 542.80,231.15 543.00,262.99 543.20,276.90 543.40,279.22 543.60,277.74 543.80,269.96 544.00,250.08 544.20,213.21 544.40,162.35 544.60,111.49 544.80,74.62 545.00,54.74 545.20,46.96 545.40,45.48 545.61,48.42 545.83,65.45 546.04,108.19 546.26,167.01 546.47,209.75 546.69,226.78 546.90,229.72 547.11,228.07 547.33,218.49 547.54,194.44 547.76,161.36 547.97,137.31 548.19,127.73 548.40,126.08 548.60,126.82 548.80,130.95 549.00,141.62 549.20,159.00 549.40,176.38 549.60,187.05 549.80,191.18 550.00,191.92 550.22,189.79 550.43,183.96 550.65,176.00 550.87,168.04 551.08,162.21 551.30,160.08 551.51,164.88 551.72,192.50 551.94,220.12 552.15,224.92 552.34,217.55 552.52,199.75 552.71,181.95 552.90,174.58 553.10,180.76 553.30,216.32 553.50,251.88 553.70,258.06 553.90,257.28 554.10,252.95 554.30,241.78 554.50,223.57 554.70,205.36 554.90,194.18 555.10,189.86 555.30,189.08 555.50,190.61 555.70,199.47 555.90,221.70 556.10,252.30 556.30,274.53 556.50,283.39 556.70,284.92 556.90,282.86 557.10,271.78 557.30,243.14 557.50,192.23 557.70,130.07 557.90,79.16 558.10,50.52 558.30,39.44 558.50,37.38 558.71,40.66 558.93,59.65 559.14,107.34 559.36,172.96 559.57,220.65 559.79,239.64 560.00,242.92 560.21,240.89 560.43,229.17 560.64,199.75 560.86,159.25 561.07,129.83 561.29,118.11 561.50,116.08 561.70,116.96 561.90,121.84 562.10,134.45 562.30,155.00 562.50,175.55 562.70,188.16 562.90,193.04 563.10,193.92 563.32,191.65 563.53,185.46 563.75,177.00 563.97,168.54 564.18,162.35 564.40,160.08 564.61,164.88 564.83,192.50 565.04,220.12 565.25,224.92 565.44,217.55 565.62,199.75 565.81,181.95 566.00,174.58 566.20,180.97 566.40,217.78 566.60,254.58 566.80,260.98 567.00,260.08 567.20,255.06 567.40,242.12 567.60,221.03 567.80,199.93 568.00,186.99 568.20,181.98 568.40,181.08 568.60,182.80 568.80,192.77 569.00,217.78 569.20,252.22 569.40,277.23 569.60,287.20 569.80,288.92 570.00,286.78 570.20,275.21 570.40,245.33 570.60,192.23 570.80,127.37 571.00,74.27 571.20,44.39 571.40,32.82 571.60,30.68 571.81,34.10 572.03,53.90 572.24,103.60 572.46,172.00 572.67,221.70 572.89,241.50 573.10,244.92 573.31,242.94 573.53,231.46 573.74,202.63 573.96,162.97 574.17,134.14 574.39,122.66 574.60,120.68 574.80,121.47 575.00,125.88 575.20,137.25 575.40,155.80 575.60,174.35 575.80,185.72 576.00,190.13 576.20,190.92 576.42,188.85 576.63,183.21 576.85,175.50 577.07,167.79 577.28,162.15 577.50,160.08 577.71,164.88 577.92,192.50 578.14,220.12 578.35,224.92 578.54,217.55 578.73,199.75 578.91,181.95 579.10,174.58 579.27,188.67 579.43,243.97 579.60,258.06 579.80,257.27 580.00,252.88 580.20,241.54 580.40,223.07 580.60,204.59 580.80,193.26 581.00,188.87 581.20,188.08 581.41,189.17 581.62,195.25 581.84,210.93 582.05,236.50 582.26,262.07 582.47,277.75 582.69,283.83 582.90,284.92 583.11,280.98 583.33,258.15 583.54,200.84 583.76,121.96 583.97,64.65 584.19,41.82 584.40,37.88 584.61,41.27 584.83,60.86 585.04,110.05 585.26,177.75 585.47,226.94 585.69,246.53 585.90,249.92 586.11,247.88 586.33,236.07 586.54,206.41 586.76,165.59 586.97,135.93 587.19,124.12 587.40,122.08 587.60,122.88 587.80,127.32 588.00,138.80 588.20,157.50 588.40,176.20 588.60,187.68 588.80,192.12 589.00,192.92 589.22,190.72 589.43,184.71 589.65,176.50 589.87,168.29 590.08,162.28 590.30,160.08 590.51,164.88 590.72,192.50 590.94,220.12 591.15,224.92 591.34,217.55 591.52,199.75 591.71,181.95 591.90,174.58 592.08,180.56 592.25,214.97 592.42,249.38 592.60,255.35 592.80,254.64 593.00,250.67 593.20,240.42 593.40,223.72 593.60,207.01 593.80,196.76 594.00,192.79 594.20,192.08 594.41,193.08 594.62,198.68 594.84,213.11 595.05,236.65 595.26,260.19 595.47,274.62 595.69,280.22 595.90,281.22 596.11,277.38 596.33,255.17 596.54,199.42 596.76,122.68 596.97,66.93 597.19,44.72 597.40,40.88 597.61,44.14 597.83,62.99 598.04,110.33 598.26,175.47 598.47,222.81 598.69,241.66 598.90,244.92 599.11,243.05 599.33,232.23 599.54,205.05 599.76,167.65 599.97,140.47 600.19,129.65 600.40,127.78 600.60,128.56 600.80,132.90 601.00,144.10 601.20,162.35 601.40,180.60 601.60,191.80 601.80,196.14 602.00,196.92 602.22,194.45 602.43,187.71 602.65,178.50 602.87,169.29 603.08,162.55 603.30,160.08 603.51,164.88 603.72,192.50 603.94,220.12 604.15,224.92 604.34,217.55 604.52,199.75 604.71,181.95 604.90,174.58 605.08,179.72 605.25,209.33 605.42,238.93 605.60,244.07 605.80,241.90 606.00,235.73 606.20,226.48 606.40,215.58 606.60,204.67 606.80,195.43 607.00,189.25 607.20,187.08 607.41,188.13 607.62,193.96 607.84,209.01 608.05,233.55 608.26,258.09 608.47,273.14 608.69,278.97 608.90,280.02 609.11,276.29 609.33,254.68 609.54,200.43 609.76,125.77 609.97,71.52 610.19,49.91 610.40,46.18 610.61,49.35 610.83,67.72 611.04,113.82 611.26,177.28 611.47,223.38 611.69,241.75 611.90,244.92 612.11,243.07 612.33,232.39 612.54,205.56 612.76,168.64 612.97,141.81 613.19,131.13 613.40,129.28 613.60,130.10 613.80,134.66 614.00,146.42 614.20,165.60 614.40,184.78 614.60,196.54 614.80,201.10 615.00,201.92 615.22,198.62 615.43,189.59 615.65,177.26 615.87,164.93 616.08,155.90 616.30,152.60 616.52,153.05 616.74,155.35 616.95,161.17 617.17,172.15 617.39,188.44 617.61,207.11 617.83,223.41 618.05,234.39 618.26,240.20 618.48,242.51 618.70,242.96 618.90,241.06 619.10,235.65 619.30,227.56 619.50,218.02 619.70,208.47 619.90,200.38 620.10,194.98 620.30,193.08 620.50,194.44 620.70,202.31 620.90,222.06 621.10,249.24 621.30,268.99 621.50,276.86 621.70,278.22 621.90,276.27 622.10,265.74 622.30,238.55 622.50,190.21 622.70,131.19 622.90,82.85 623.10,55.66 623.30,45.13 623.50,43.18 623.71,46.40 623.93,65.04 624.14,111.85 624.36,176.25 624.57,223.06 624.79,241.70 625.00,244.92 625.21,242.97 625.43,231.72 625.64,203.45 625.86,164.55 626.07,136.28 626.29,125.03 626.50,123.08 626.70,123.92 626.90,128.62 627.10,140.74 627.30,160.50 627.50,180.26 627.70,192.38 627.90,197.08 628.10,197.92 628.32,194.63 628.53,185.66 628.75,173.40 628.97,161.14 629.18,152.17 629.40,148.88 629.61,149.48 629.82,152.65 630.03,160.75 630.24,175.76 630.45,196.48 630.66,217.19 630.87,232.20 631.08,240.30 631.29,243.47 631.50,244.07 631.70,241.94 631.90,235.87 632.10,226.79 632.30,216.08 632.50,205.36 632.70,196.28 632.90,190.21 633.10,188.08 633.31,189.55 633.53,198.04 633.74,219.37 633.96,248.73 634.17,270.06 634.39,278.55 634.60,280.02 634.81,277.48 635.02,263.32 635.24,226.75 635.45,167.15 635.66,107.55 635.88,70.98 636.09,56.82 636.30,54.28 636.51,57.32 636.73,74.94 636.94,119.17 637.16,180.03 637.37,224.26 637.59,241.88 637.80,244.92 638.01,242.99 638.23,231.82 638.44,203.79 638.66,165.21 638.87,137.18 639.09,126.01 639.30,124.08 639.50,124.97 639.70,129.91 639.90,142.68 640.10,163.50 640.30,184.32 640.50,197.09 640.70,202.03 640.90,202.92 641.12,199.34 641.33,189.56 641.55,176.20 641.77,162.84 641.98,153.06 642.20,149.48 642.42,149.89 642.64,152.00 642.85,157.33 643.07,167.39 643.29,182.32 643.51,199.43 643.73,214.36 643.95,224.42 644.16,229.74 644.38,231.86 644.60,232.27 644.80,230.36 645.00,224.92 645.20,216.78 645.40,207.17 645.60,197.57 645.80,189.43 646.00,183.99 646.20,182.08 646.40,184.51 646.60,199.12 646.80,232.55 647.00,265.98 647.20,280.59 647.40,283.02 647.60,281.56 647.80,273.89 648.00,254.27 648.20,217.91 648.40,167.75 648.60,117.59 648.80,81.23 649.00,61.61 649.20,53.94 649.40,52.48 649.61,55.67 649.83,74.16 650.04,120.57 650.26,184.43 650.47,230.84 650.69,249.33 650.90,252.52 651.11,250.40 651.33,238.12 651.54,207.31 651.76,164.89 651.97,134.08 652.19,121.80 652.40,119.68 652.60,120.59 652.80,125.69 653.00,138.85 653.20,160.30 653.40,181.75 653.60,194.91 653.80,200.01 654.00,200.92 654.22,197.85 654.43,189.46 654.65,178.00 654.87,166.54 655.08,158.15 655.30,155.08 655.52,155.45 655.74,157.37 655.95,162.20 656.17,171.33 656.39,184.88 656.61,200.40 656.83,213.95 657.05,223.08 657.26,227.91 657.48,229.83 657.70,230.20 657.90,228.37 658.10,223.16 658.30,215.35 658.50,206.14 658.70,196.93 658.90,189.13 659.10,183.91 659.30,182.08 659.50,184.41 659.70,198.39 659.90,230.40 660.10,262.41 660.30,276.39 660.50,278.72 660.70,277.25 660.90,269.53 661.10,249.79 661.30,213.19 661.50,162.70 661.70,112.21 661.90,75.61 662.10,55.87 662.30,48.15 662.50,46.68 662.71,50.03 662.93,69.42 663.14,118.10 663.36,185.10 663.57,233.78 663.79,253.17 664.00,256.52 664.21,254.28 664.43,241.30 664.64,208.72 664.86,163.88 665.07,131.30 665.29,118.32 665.50,116.08 665.70,117.06 665.90,122.51 666.10,136.57 666.30,159.50 666.50,182.43 666.70,196.49 666.90,201.94 667.10,202.92 667.32,199.72 667.53,190.96 667.75,179.00 667.97,167.04 668.18,158.28 668.40,155.08 668.61,155.55 668.82,158.01 669.03,164.30 669.24,175.96 669.45,192.04 669.66,208.13 669.87,219.79 670.08,226.08 670.29,228.53 670.50,229.00 670.70,227.22 670.90,222.13 671.10,214.52 671.30,205.54 671.50,196.56 671.70,188.95 671.90,183.87 672.10,182.08 672.30,183.58 672.50,192.28 672.70,214.12 672.90,244.18 673.10,266.02 673.30,274.72 673.50,276.22 673.70,274.39 673.90,264.54 674.10,239.10 674.30,193.87 674.50,138.63 674.70,93.40 674.90,67.96 675.10,58.11 675.30,56.28 675.51,59.35 675.73,77.10 675.94,121.68 676.16,183.02 676.37,227.60 676.59,245.35 676.80,248.42 677.01,246.45 677.23,235.05 677.44,206.44 677.66,167.06 677.87,138.45 678.09,127.05 678.30,125.08 678.50,125.91 678.70,130.54 678.90,142.50 679.10,162.00 679.30,181.50 679.50,193.46 679.70,198.09 679.90,198.92 680.12,195.25 680.33,185.21 680.55,171.50 680.77,157.79 680.98,147.75 681.20,144.08 681.42,144.52 681.64,146.75 681.85,152.40 682.07,163.05 682.29,178.87 682.51,197.00 682.73,212.81 682.95,223.47 683.16,229.11 683.38,231.35 683.60,231.79 683.80,229.90 684.00,224.51 684.20,216.45 684.40,206.93 684.60,197.42 684.80,189.36 685.00,183.97 685.20,182.08 685.40,183.68 685.60,192.91 685.80,216.10 686.00,248.00 686.20,271.19 686.40,280.42 686.60,282.02 686.80,280.13 687.00,269.94 687.20,243.61 687.40,196.82 687.60,139.68 687.80,92.89 688.00,66.56 688.20,56.37 688.40,54.48 688.61,57.64 688.83,75.94 689.04,121.89 689.26,185.11 689.47,231.06 689.69,249.36 689.90,252.52 690.11,250.42 690.33,238.28 690.54,207.78 690.76,165.82 690.97,135.32 691.19,123.18 691.40,121.08 691.60,122.01 691.80,127.21 692.00,140.63 692.20,162.50 692.40,184.37 692.60,197.79 692.80,202.99 693.00,203.92 693.22,202.17 693.43,191.63 693.65,167.50 693.87,143.37 694.08,132.83 694.30,131.08 694.51,131.58 694.72,134.15 694.93,140.63 695.14,152.87 695.35,171.03 695.55,191.84 695.76,210.00 695.97,222.24 696.18,228.72 696.39,231.29 696.60,231.79 696.80,229.90 697.00,224.51 697.20,216.45 697.40,206.93 697.60,197.42 697.80,189.36 698.00,183.97 698.20,182.08 698.41,183.68 698.63,192.91 698.84,216.10 699.06,248.00 699.27,271.19 699.49,280.42 699.70,282.02 699.91,279.46 700.12,265.18 700.34,228.33 700.55,168.25 700.76,108.17 700.98,71.32 701.19,57.04 701.40,54.48 701.61,57.66 701.83,76.05 702.04,122.23 702.26,185.77 702.47,231.95 702.69,250.34 702.90,253.52 703.11,251.34 703.33,238.73 703.54,207.08 703.76,163.52 703.97,131.87 704.19,119.26 704.40,117.08 704.60,118.03 704.80,123.33 705.00,137.01 705.20,159.30 705.40,181.59 705.60,195.27 705.80,200.57 706.00,201.52 706.22,200.04 706.43,191.15 706.65,170.80 706.87,150.45 707.08,141.56 707.30,140.08 707.51,140.40 707.72,141.99 707.92,145.88 708.13,153.25 708.34,164.96 708.55,180.58 708.75,197.82 708.96,213.43 709.17,225.14 709.38,232.52 709.58,236.41 709.79,237.99 710.00,238.32 710.20,236.31 710.40,230.61 710.60,222.07 710.80,212.00 711.00,201.93 711.20,193.39 711.40,187.68 711.60,185.68 711.80,188.33 712.00,204.24 712.20,240.65 712.40,277.06 712.60,292.97 712.80,295.62 713.00,293.99 713.20,285.48 713.40,263.68 713.60,223.29 713.80,167.55 714.00,111.81 714.20,71.42 714.40,49.62 714.60,41.11 714.80,39.48 715.01,42.91 715.23,62.78 715.44,112.67 715.66,181.33 715.87,231.22 716.09,251.09 716.30,254.52 716.51,252.33 716.73,239.63 716.94,207.74 717.16,163.86 717.37,131.97 717.59,119.27 717.80,117.08 718.00,118.12 718.20,123.93 718.40,138.92 718.60,163.35 718.80,187.78 719.00,202.77 719.20,208.58 719.40,209.62 719.62,207.82 719.83,197.04 720.05,172.35 720.27,147.66 720.48,136.88 720.70,135.08 720.91,135.72 721.12,139.09 721.33,147.69 721.54,163.65 721.75,185.67 721.96,207.68 722.17,223.64 722.38,232.25 722.59,235.61 722.80,236.25 723.00,234.04 723.20,227.73 723.40,218.30 723.60,207.17 723.80,196.04 724.00,186.60 724.20,180.29 724.40,178.08 724.60,179.89 724.80,190.35 725.00,216.62 725.20,252.78 725.40,279.05 725.60,289.51 725.80,291.32 726.00,289.25 726.20,278.08 726.40,249.23 726.60,197.96 726.80,135.34 727.00,84.07 727.20,55.22 727.40,44.05 727.60,41.98 727.81,45.51 728.03,65.92 728.24,117.18 728.46,187.72 728.67,238.98 728.89,259.39 729.10,262.92 729.31,260.50 729.53,246.52 729.74,211.41 729.96,163.09 730.17,127.98 730.39,114.00 730.60,111.58 730.80,112.68 731.00,118.83 731.20,134.71 731.40,160.60 731.60,186.49 731.80,202.37 732.00,208.52 732.20,209.62 732.42,207.94 732.63,197.88 732.85,174.85 733.07,151.82 733.28,141.76 733.50,140.08 733.72,140.58 733.94,143.11 734.15,149.51 734.37,161.59 734.59,179.52 734.81,200.07 735.03,218.00 735.25,230.09 735.46,236.48 735.68,239.02 735.90,239.52 736.10,238.76 736.30,234.56 736.50,223.70 736.70,206.00 736.90,188.30 737.10,177.44 737.30,173.23 737.50,172.48 737.70,174.49 737.90,186.10 738.10,215.24 738.30,255.36 738.50,284.50 738.70,296.11 738.90,298.12 739.10,295.98 739.30,284.45 739.50,254.67 739.70,201.73 739.90,137.07 740.10,84.13 740.30,54.35 740.50,42.82 740.70,40.68 740.91,44.21 741.13,64.66 741.34,115.98 741.56,186.62 741.77,237.94 741.99,258.39 742.20,261.92 742.41,259.65 742.63,246.51 742.84,213.51 743.06,168.09 743.27,135.09 743.49,121.95 743.70,119.68 743.90,120.60 744.10,125.74 744.30,138.99 744.50,160.60 744.70,182.21 744.90,195.46 745.10,200.60 745.30,201.52 745.52,197.94 745.73,188.16 745.95,174.80 746.17,161.44 746.38,151.66 746.60,148.08 746.81,148.52 747.02,150.80 747.23,156.53 747.44,167.36 747.65,183.44 747.85,201.86 748.06,217.93 748.27,228.76 748.48,234.49 748.69,236.77 748.90,237.21 749.10,236.43 749.30,232.10 749.50,220.90 749.70,202.65 749.90,184.39 750.10,173.20 750.30,168.86 750.50,168.08 750.71,170.08 750.93,181.65 751.14,210.71 751.36,250.69 751.57,279.75 751.79,291.32 752.00,293.32 752.21,290.50 752.42,274.77 752.64,234.18 752.85,168.00 753.06,101.82 753.28,61.23 753.49,45.50 753.70,42.68 753.91,46.10 754.13,65.90 754.34,115.60 754.56,184.00 754.77,233.70 754.99,253.50 755.20,256.92 755.41,254.78 755.63,242.42 755.84,211.37 756.06,168.63 756.27,137.58 756.49,125.22 756.70,123.08 756.90,124.03 757.10,129.35 757.30,143.08 757.50,165.45 757.70,187.82 757.90,201.55 758.10,206.87 758.30,207.82 758.52,206.21 758.73,196.56 758.95,174.45 759.17,152.34 759.38,142.69 759.60,141.08 759.81,141.40 760.02,143.00 760.22,146.89 760.43,154.29 760.64,166.04 760.85,181.70 761.05,198.99 761.26,214.65 761.47,226.40 761.68,233.80 761.88,237.70 762.09,239.29 762.30,239.61 762.50,238.81 762.70,234.32 762.90,222.73 763.10,203.85 763.30,184.96 763.50,173.37 763.70,168.89 763.90,168.08 764.10,171.22 764.30,190.06 764.50,233.20 764.70,276.34 764.90,295.18 765.10,298.32 765.30,296.71 765.50,288.25 765.70,266.61 765.90,226.49 766.10,171.15 766.30,115.81 766.50,75.69 766.70,54.05 766.90,45.59 767.10,43.98 767.31,47.44 767.53,67.49 767.74,117.82 767.96,187.08 768.17,237.41 768.39,257.46 768.60,260.92 768.81,258.52 769.03,244.63 769.24,209.75 769.46,161.75 769.67,126.87 769.89,112.98 770.10,110.58 770.30,111.72 770.50,118.10 770.70,134.56 770.90,161.40 771.10,188.24 771.30,204.70 771.50,211.08 771.70,212.22 771.92,210.41 772.13,199.54 772.35,174.65 772.57,149.76 772.78,138.89 773.00,137.08 773.21,137.59 773.42,140.19 773.63,146.75 773.84,159.14 774.05,177.52 774.25,198.59 774.46,216.98 774.67,229.37 774.88,235.93 775.09,238.53 775.30,239.04 775.50,238.17 775.70,233.37 775.90,220.97 776.10,200.76 776.30,180.54 776.50,168.15 776.70,163.34 776.90,162.48 777.10,165.72 777.30,185.21 777.50,229.80 777.70,274.39 777.90,293.88 778.10,297.12 778.30,295.53 778.50,287.19 778.70,265.87 778.90,226.34 779.10,171.80 779.30,117.26 779.50,77.73 779.70,56.41 779.90,48.07 780.10,46.48 780.31,49.90 780.53,69.72 780.74,119.47 780.96,187.93 781.17,237.68 781.39,257.50 781.60,260.92 781.81,258.58 782.03,245.01 782.24,210.94 782.46,164.06 782.67,129.99 782.89,116.42 783.10,114.08 783.30,115.08 783.50,120.64 783.70,135.00 783.90,158.40 784.10,181.80 784.30,196.16 784.50,201.72 784.70,202.72 784.92,201.09 785.13,191.30 785.35,168.90 785.57,146.50 785.78,136.71 786.00,135.08 786.22,135.62 786.44,138.37 786.65,145.33 786.87,158.45 787.09,177.94 787.31,200.26 787.53,219.74 787.75,232.87 787.96,239.82 788.18,242.58 788.40,243.12 788.60,242.23 788.80,237.29 789.00,224.54 789.20,203.75 789.40,182.96 789.60,170.21 789.80,165.27 790.00,164.38 790.21,166.64 790.43,179.69 790.64,212.45 790.86,257.55 791.07,290.31 791.29,303.36 791.50,305.62 791.71,302.65 791.92,286.11 792.14,243.41 792.35,173.80 792.56,104.19 792.78,61.49 792.99,44.95 793.20,41.98 793.41,45.41 793.63,65.27 793.84,115.14 794.06,183.76 794.27,233.63 794.49,253.49 794.70,256.92 794.91,254.64 795.13,241.44 795.34,208.30 795.56,162.70 795.77,129.56 795.99,116.36 796.20,114.08 796.40,115.06 796.60,120.55 796.80,134.71 797.00,157.80 797.20,180.89 797.40,195.05 797.60,200.54 797.80,201.52 798.02,199.97 798.23,190.64 798.45,169.30 798.67,147.96 798.88,138.63 799.10,137.08 799.32,137.51 799.53,139.64 799.75,144.96 799.97,155.04 800.18,170.67 800.40,190.29 800.62,209.91 800.83,225.54 801.05,235.62 801.27,240.94 801.48,243.07 801.70,243.50 801.90,242.65 802.10,237.92 802.30,225.70 802.50,205.79 802.70,185.88 802.90,173.66 803.10,168.93 803.30,168.08 803.51,170.29 803.73,183.07 803.94,215.17 804.16,259.33 804.37,291.43 804.59,304.21 804.80,306.42 805.01,303.40 805.22,286.55 805.44,243.05 805.65,172.15 805.86,101.25 806.08,57.75 806.29,40.90 806.50,37.88 806.71,41.44 806.93,62.05 807.14,113.79 807.36,185.01 807.57,236.75 807.79,257.36 808.00,260.92 808.21,258.58 808.43,245.06 808.64,211.11 808.86,164.39 809.07,130.44 809.29,116.92 809.50,114.58 809.70,115.45 809.90,120.30 810.10,132.83 810.30,153.25 810.50,173.67 810.70,186.20 810.90,191.05 811.10,191.92 811.32,188.38 811.53,178.71 811.75,165.50 811.97,152.29 812.18,142.62 812.40,139.08 812.62,139.61 812.84,142.29 813.05,149.07 813.27,161.86 813.49,180.84 813.71,202.60 813.93,221.59 814.15,234.38 814.36,241.15 814.58,243.84 814.80,244.36 815.00,243.53 815.20,238.90 815.40,226.95 815.60,207.47 815.80,187.99 816.00,176.04 816.20,171.41 816.40,170.58 816.61,172.78 816.83,185.50 817.04,217.43 817.26,261.37 817.47,293.30 817.69,306.02 817.90,308.22 818.11,305.11 818.33,287.76 818.54,242.96 818.75,169.95 818.96,96.94 819.17,52.14 819.39,34.79 819.60,31.68 819.81,35.24 820.03,55.87 820.24,107.66 820.46,178.94 820.67,230.73 820.89,251.36 821.10,254.92 821.31,252.80 821.53,240.52 821.74,209.71 821.96,167.29 822.17,136.48 822.39,124.20 822.60,122.08 822.80,122.81 823.00,126.88 823.20,137.38 823.40,154.50 823.60,171.62 823.80,182.12 824.00,186.19 824.20,186.92 824.42,185.32 824.63,180.96 824.85,175.00 825.07,169.04 825.28,164.68 825.50,163.08 825.71,169.06 825.92,183.50 826.14,197.94 826.35,203.92 826.54,199.99 826.73,190.50 826.91,181.01 827.10,177.08 827.27,187.80 827.43,229.90 827.60,240.62 827.80,238.58 828.00,232.78 828.20,224.09 828.40,213.85 828.60,203.61 828.80,194.92 829.00,189.12 829.20,187.08 829.41,188.89 829.63,199.36 829.84,225.66 830.06,261.84 830.27,288.14 830.49,298.61 830.70,300.42 830.91,297.44 831.12,280.83 831.34,237.95 831.55,168.05 831.76,98.15 831.98,55.27 832.19,38.66 832.40,35.68 832.61,39.09 832.83,58.79 833.04,108.26 833.26,176.34 833.47,225.81 833.69,245.51 833.90,248.92 834.11,246.94 834.33,235.50 834.54,206.77 834.76,167.23 834.97,138.50 835.19,127.06 835.40,125.08 835.60,125.78 835.80,129.66 836.00,139.67 836.20,156.00 836.40,172.33 836.60,182.34 836.80,186.22 837.00,186.92 837.22,184.99 837.43,179.71 837.65,172.50 837.87,165.29 838.08,160.01 838.30,158.08 838.51,164.79 838.72,181.00 838.94,197.21 839.15,203.92 839.34,199.11 839.52,187.50 839.71,175.89 839.90,171.08 840.10,181.26 840.30,221.22 840.50,231.40 840.70,230.14 840.90,226.52 841.10,221.12 841.30,214.74 841.50,208.37 841.70,202.96 841.90,199.35 842.10,198.08 842.30,200.08 842.50,212.11 842.70,239.65 842.90,267.19 843.10,279.22 843.30,281.22 843.50,279.77 843.70,272.20 843.90,252.82 844.10,216.91 844.30,167.35 844.50,117.79 844.70,81.88 844.90,62.50 845.10,54.93 845.30,53.48 845.51,56.51 845.73,74.01 845.94,117.96 846.16,178.44 846.37,222.39 846.59,239.89 846.80,242.92 847.01,241.10 847.23,230.58 847.44,204.17 847.66,167.83 847.87,141.42 848.09,130.90 848.30,129.08 848.50,131.28 848.70,137.55 848.90,146.93 849.10,158.00 849.30,169.07 849.50,178.45 849.70,184.72 849.90,186.92 850.12,184.52 850.33,177.96 850.55,169.00 850.77,160.04 850.98,153.48 851.20,151.08 851.41,158.82 851.62,177.50 851.84,196.18 852.05,203.92 852.24,198.09 852.42,184.00 852.61,169.91 852.80,164.08 853.00,222.62 853.20,221.69 853.40,219.03 853.60,215.05 853.80,210.35 854.00,205.65 854.20,201.67 854.40,199.01 854.60,198.08 854.81,199.12 855.03,205.11 855.24,220.15 855.46,240.85 855.67,255.89 855.89,261.88 856.10,262.92 856.31,260.79 856.52,248.92 856.74,218.26 856.95,168.30 857.16,118.34 857.38,87.68 857.59,75.81 857.80,73.68 858.01,76.25 858.23,91.15 858.44,128.56 858.66,180.04 858.87,217.45 859.09,232.35 859.30,234.92 859.51,233.37 859.73,224.39 859.94,201.86 860.16,170.84 860.37,148.31 860.59,139.33 860.80,137.78 861.00,139.65 861.20,144.98 861.40,152.95 861.60,162.35 861.80,171.75 862.00,179.72 862.20,185.05 862.40,186.92 862.62,184.32 862.83,177.21 863.05,167.50 863.27,157.79 863.48,150.68 863.70,148.08 863.91,156.26 864.12,176.00 864.34,195.74 864.55,203.92 864.74,197.35 864.92,181.50 865.11,165.65 865.30,159.08 865.47,169.30 865.63,209.42 865.80,219.64 866.00,218.82 866.20,216.49 866.40,212.99 866.60,208.86 866.80,204.74 867.00,201.24 867.20,198.90 867.40,198.08 867.61,200.31 867.83,206.67 868.04,216.18 868.25,227.40 868.46,238.62 868.67,248.13 868.89,254.49 869.10,256.72 869.31,253.96 869.53,237.96 869.74,197.79 869.96,142.51 870.17,102.34 870.39,86.34 870.60,83.58 870.81,85.93 871.03,99.55 871.24,133.73 871.46,180.77 871.67,214.95 871.89,228.57 872.10,230.92 872.31,229.41 872.53,220.69 872.74,198.78 872.96,168.62 873.17,146.71 873.39,137.99 873.60,136.48 873.80,138.40 874.00,143.87 874.20,152.05 874.40,161.70 874.60,171.35 874.80,179.53 875.00,185.00 875.20,186.92 875.42,184.39 875.63,177.46 875.85,168.00 876.07,158.54 876.28,151.61 876.50,149.08 876.71,157.11 876.92,176.50 877.14,195.89 877.35,203.92 877.54,197.50 877.73,182.00 877.91,166.50 878.10,160.08 878.30,215.42 878.50,214.76 878.70,212.88 878.90,210.07 879.10,206.75 879.30,203.43 879.50,200.62 879.70,198.74 879.90,198.08 880.11,200.55 880.33,207.46 880.54,217.45 880.76,228.55 880.97,238.54 881.19,245.45 881.40,247.92 881.61,246.14 881.83,236.20 882.04,210.53 882.25,168.70 882.46,126.87 882.67,101.20 882.89,91.26 883.10,89.48 883.31,91.71 883.53,104.59 883.74,136.94 883.96,181.46 884.17,213.81 884.39,226.69 884.60,228.92 884.81,227.54 885.03,219.58 885.24,199.60 885.46,172.10 885.67,152.12 885.89,144.16 886.10,142.78 886.30,144.46 886.50,149.24 886.70,156.40 886.90,164.85 887.10,173.30 887.30,180.46 887.50,185.24 887.70,186.92 887.92,184.52 888.13,177.96 888.35,169.00 888.57,160.04 888.78,153.48 889.00,151.08 889.21,158.82 889.42,177.50 889.64,196.18 889.85,203.92 890.04,198.23 890.23,184.50 890.41,170.77 890.60,165.08 890.70,215.80 890.90,215.13 891.10,213.21 891.30,210.33 891.50,206.94 891.70,203.55 891.90,200.68 892.10,198.75 892.30,198.08 892.50,200.01 892.70,205.50 892.90,213.71 893.10,223.40 893.30,233.09 893.50,241.30 893.70,246.79 893.90,248.72 894.10,246.95 894.30,237.07 894.50,211.57 894.70,170.00 894.90,128.43 895.10,102.93 895.30,93.05 895.50,91.28 895.70,92.15 895.90,96.73 896.10,108.44 896.30,130.15 896.50,160.10 896.70,190.05 896.90,211.76 897.10,223.47 897.30,228.05 897.50,228.92 897.70,228.31 897.90,225.09 898.10,216.87 898.30,201.63 898.50,180.60 898.70,159.57 898.90,144.33 899.10,136.11 899.30,132.89 899.50,132.28 899.70,134.36 899.90,140.28 900.10,149.15 900.30,159.60 900.50,170.05 900.70,178.92 900.90,184.84 901.10,186.92 901.32,184.52 901.53,177.96 901.75,169.00 901.97,160.04 902.18,153.48 902.40,151.08 902.60,162.65 902.80,208.07 903.00,219.64 903.12,212.32 903.25,205.00 903.44,199.30 903.62,185.54 903.81,171.78 904.00,166.08 904.20,173.81 904.40,189.27 904.60,197.00 904.81,199.27 905.02,205.75 905.24,215.43 905.45,226.86 905.66,238.29 905.88,247.97 906.09,254.45 906.30,256.72 906.51,254.13 906.73,239.14 906.94,201.50 907.16,149.70 907.37,112.06 907.59,97.07 907.80,94.48 908.00,95.58 908.20,101.51 908.40,116.83 908.60,144.07 908.80,177.33 909.00,204.57 909.20,219.89 909.40,225.82 909.60,226.92 909.80,225.98 910.00,220.89 910.20,207.76 910.40,184.41 910.60,155.89 910.80,132.54 911.00,119.41 911.20,114.32 911.40,113.38 911.60,114.21 911.80,118.82 912.00,130.73 912.20,150.15 912.40,169.57 912.60,181.48 912.80,186.09 913.00,186.92 913.22,184.23 913.43,176.88 913.65,166.84 913.87,156.81 914.08,149.46 914.30,146.77 914.51,155.30 914.72,175.88 914.94,196.47 915.15,205.00 915.30,220.60 915.50,206.97 915.70,179.71 915.90,166.08 916.10,169.03 916.30,176.76 916.50,186.32 916.70,194.05 916.90,197.00 917.10,198.49 917.30,207.42 917.50,227.86 917.70,248.30 917.90,257.23 918.10,258.72 918.30,257.79 918.50,252.89 918.70,240.35 918.90,217.11 919.10,185.05 919.30,152.99 919.50,129.75 919.70,117.21 919.90,112.31 920.10,111.38 920.32,112.66 920.54,119.78 920.76,138.17 920.98,168.15 921.19,198.13 921.41,216.52 921.63,223.64 921.85,224.92 922.07,223.78 922.29,217.41 922.51,200.98 922.73,174.20 922.94,147.42 923.16,130.99 923.38,124.62 923.60,123.48 923.80,124.19 924.00,128.17 924.20,138.45 924.40,155.20 924.60,171.95 924.80,182.23 925.00,186.21 925.20,186.92 925.42,184.52 925.63,177.96 925.85,169.00 926.07,160.04 926.28,153.48 926.50,151.08 926.71,158.98 926.92,178.04 927.14,197.10 927.35,205.00 927.40,214.22 927.58,207.17 927.75,190.15 927.93,173.13 928.10,166.08 928.28,169.03 928.46,176.76 928.64,186.32 928.82,194.05 929.00,197.00 929.20,199.40 929.40,206.12 929.60,215.82 929.80,226.60 930.00,236.30 930.20,243.02 930.40,245.42 930.60,244.37 930.80,238.73 931.00,224.15 931.20,198.23 931.40,166.57 931.60,140.65 931.80,126.07 932.00,120.43 932.20,119.38 932.42,120.55 932.64,127.04 932.86,143.81 933.08,171.15 933.29,198.49 933.51,215.26 933.73,221.75 933.95,222.92 934.17,221.88 934.39,216.10 934.61,201.18 934.83,176.85 935.04,152.52 935.26,137.60 935.48,131.82 935.70,130.78 935.90,132.92 936.10,139.00 936.30,148.11 936.50,158.85 936.70,169.59 936.90,178.70 937.10,184.78 937.30,186.92 937.52,184.52 937.73,177.96 937.95,169.00 938.17,160.04 938.38,153.48 938.60,151.08 938.81,158.82 939.03,177.50 939.24,196.18 939.45,203.92 939.64,198.38 939.83,185.00 940.01,171.62 940.20,166.08 940.40,171.80 940.60,186.78 940.80,205.30 941.00,220.28 941.20,226.00 941.41,226.84 941.63,229.19 941.84,232.58 942.06,236.34 942.27,239.73 942.49,242.08 942.70,242.92 942.91,241.30 943.13,231.94 943.34,208.43 943.56,176.07 943.77,152.56 943.99,143.20 944.20,141.58 944.40,142.85 944.60,150.18 944.80,168.58 945.00,193.92 945.20,212.32 945.40,219.65 945.60,220.92 945.82,216.84 946.03,205.69 946.25,190.46 946.47,175.23 946.68,164.08 946.90,160.00 947.10,158.61 947.30,154.65 947.50,148.73 947.70,141.74 947.90,134.75 948.10,128.83 948.30,124.87 948.50,123.48 948.70,126.21 948.90,134.06 949.10,146.09 949.30,160.85 949.50,176.55 949.70,191.31 949.90,203.34 950.10,211.19 950.30,213.92 950.52,211.72 950.73,205.71 950.95,197.50 951.17,189.29 951.38,183.28 951.60,181.08 951.82,183.29 952.03,189.31 952.25,197.54 952.47,205.77 952.68,211.79 952.90,214.00 953.10,215.31 953.30,218.97 953.50,224.27 953.70,230.15 953.90,235.45 954.10,239.11 954.30,240.42 954.51,238.52 954.72,232.97 954.93,224.23 955.14,212.99 955.35,200.18 955.55,186.82 955.76,174.01 955.97,162.77 956.18,154.03 956.39,148.48 956.60,146.58 956.81,148.76 957.02,154.98 957.24,164.28 957.45,175.25 957.66,186.22 957.88,195.52 958.09,201.74 958.30,203.92 958.51,201.95 958.72,196.33 958.94,187.92 959.15,178.00 959.36,168.08 959.58,159.67 959.79,154.05 960.00,152.08 960.20,153.49 960.40,157.56 960.60,163.79 960.80,171.43 961.00,179.57 961.20,187.21 961.40,193.44 961.60,197.51 961.80,198.92 962.00,197.84 962.20,194.81 962.40,190.43 962.60,185.57 962.80,181.19 963.00,178.16 963.20,177.08 963.40,178.14 963.60,181.17 963.80,185.70 964.00,191.04 964.20,196.38 964.40,200.91 964.60,203.94 964.80,205.00 965.00,205.72 965.20,207.79 965.40,210.87 965.60,214.51 965.80,218.15 966.00,221.23 966.20,223.30 966.40,224.02 966.62,223.36 966.84,221.40 967.06,218.22 967.27,213.94 967.49,208.72 967.71,202.77 967.93,196.32 968.15,189.60 968.37,182.88 968.59,176.43 968.81,170.48 969.02,165.26 969.24,160.98 969.46,157.80 969.68,155.84 969.90,155.18 970.12,155.41 970.33,156.10 970.55,157.19 970.77,158.62 970.98,160.27 971.20,162.05 971.42,163.83 971.63,165.48 971.85,166.91 972.07,168.00 972.28,168.69 972.50,168.92 972.70,168.74 972.90,168.28 973.10,167.72 973.30,167.26 973.50,167.08 973.71,167.28 973.93,167.88 974.14,168.87 974.35,170.22 974.57,171.91 974.78,173.90 975.00,176.16 975.21,178.64 975.42,181.28 975.64,184.04 975.85,186.85 976.06,189.66 976.28,192.42 976.49,195.06 976.70,197.54 976.92,199.80 977.13,201.79 977.35,203.48 977.56,204.83 977.77,205.82 977.99,206.42 978.20,206.62 978.41,206.46 978.62,205.99 978.84,205.22 979.05,204.16 979.26,202.82 979.47,201.22 979.68,199.40 979.90,197.37 980.11,195.18 980.32,192.86 980.53,190.43 980.74,187.95 980.96,185.45 981.17,182.97 981.38,180.54 981.59,178.22 981.80,176.03 982.02,174.00 982.23,172.18 982.44,170.58 982.65,169.24 982.86,168.18 983.08,167.41 983.29,166.94 983.50,166.78 983.72,167.00 983.94,167.65 984.16,168.70 984.38,170.11 984.60,171.81 984.82,173.74 985.04,175.80 985.26,177.90 985.48,179.96 985.70,181.88 985.92,183.59 986.14,185.00 986.36,186.05 986.58,186.70 986.80,186.92 987.00,186.94 987.20,186.98 987.40,187.02 987.60,187.06 987.80,187.08 988.01,187.34 988.23,188.11 988.44,189.34 988.66,190.98 988.87,192.95 989.09,195.14 989.30,197.45 989.51,199.76 989.73,201.95 989.94,203.92 990.16,205.56 990.37,206.79 990.59,207.56 990.80,207.82 991.02,207.65 991.23,207.16 991.45,206.35 991.67,205.23 991.89,203.83 992.10,202.18 992.32,200.30 992.54,198.23 992.76,196.00 992.97,193.67 993.19,191.26 993.41,188.84 993.63,186.43 993.84,184.10 994.06,181.87 994.28,179.80 994.50,177.92 994.71,176.27 994.93,174.87 995.15,173.75 995.37,172.94 995.58,172.45 995.80,172.28 996.01,172.46 996.23,173.00 996.44,173.87 996.65,175.03 996.87,176.44 997.08,178.03 997.29,179.73 997.51,181.47 997.72,183.17 997.93,184.76 998.15,186.17 998.36,187.33 998.57,188.20 998.79,188.74 999.00,188.92 999.20,188.94 999.40,188.98 999.60,189.02 999.80,189.06 1000.00,189.08 1000.22,189.33 1000.43,190.08 1000.65,191.29 1000.86,192.87 1001.08,194.74 1001.29,196.79 1001.51,198.91 1001.72,200.96 1001.94,202.83 1002.15,204.41 1002.37,205.62 1002.58,206.37 1002.80,206.62 1003.01,206.48 1003.23,206.06 1003.44,205.38 1003.65,204.43 1003.87,203.26 1004.08,201.87 1004.30,200.29 1004.51,198.57 1004.72,196.73 1004.94,194.81 1005.15,192.85 1005.36,190.89 1005.58,188.97 1005.79,187.13 1006.00,185.41 1006.22,183.83 1006.43,182.44 1006.65,181.27 1006.86,180.32 1007.07,179.64 1007.29,179.22 1007.50,179.08 1007.70,179.04 1007.90,178.92 1008.10,178.75 1008.30,178.59 1008.50,178.46 1008.70,178.42 1008.91,178.28 1009.12,177.89 1009.34,177.30 1009.55,176.60 1009.76,175.90 1009.98,175.31 1010.19,174.92 1010.40,174.78 1010.61,174.92 1010.83,175.32 1011.04,175.99 1011.25,176.90 1011.47,178.05 1011.68,179.39 1011.90,180.92 1012.11,182.60 1012.32,184.38 1012.54,186.25 1012.75,188.15 1012.96,190.05 1013.18,191.92 1013.39,193.70 1013.60,195.38 1013.82,196.91 1014.03,198.25 1014.25,199.40 1014.46,200.31 1014.67,200.98 1014.89,201.38 1015.10,201.52 1015.32,201.40 1015.54,201.04 1015.76,200.45 1015.98,199.64 1016.20,198.63 1016.41,197.45 1016.63,196.11 1016.85,194.65 1017.07,193.11 1017.29,191.51 1017.51,189.89 1017.73,188.29 1017.95,186.75 1018.17,185.29 1018.39,183.95 1018.60,182.77 1018.82,181.76 1019.04,180.95 1019.26,180.36 1019.48,180.00 1019.70,179.88 1019.92,179.82 1020.13,179.64 1020.35,179.40 1020.57,179.16 1020.78,178.98 1021.00,178.92 1021.21,178.87 1021.42,178.73 1021.63,178.51 1021.84,178.24 1022.06,177.96 1022.27,177.69 1022.48,177.47 1022.69,177.33 1022.90,177.28 1023.11,177.35 1023.32,177.57 1023.54,177.92 1023.75,178.40 1023.96,179.01 1024.17,179.73 1024.39,180.55 1024.60,181.47 1024.81,182.45 1025.03,183.48 1025.24,184.56 1025.45,185.65 1025.66,186.74 1025.88,187.82 1026.09,188.85 1026.30,189.83 1026.51,190.75 1026.72,191.57 1026.94,192.29 1027.15,192.90 1027.36,193.38 1027.58,193.73 1027.79,193.95 1028.00,194.02 1028.21,193.94 1028.42,193.70 1028.63,193.31 1028.84,192.78 1029.05,192.12 1029.26,191.35 1029.47,190.49 1029.68,189.55 1029.89,188.56 1030.10,187.55 1030.31,186.54 1030.52,185.55 1030.73,184.61 1030.94,183.75 1031.15,182.98 1031.36,182.32 1031.57,181.79 1031.78,181.40 1031.99,181.16 1032.20,181.08 1032.42,181.04 1032.63,180.92 1032.85,180.75 1033.07,180.59 1033.28,180.46 1033.50,180.42 1033.72,180.41 1033.93,180.38 1034.15,180.35 1034.37,180.31 1034.58,180.29 1034.80,180.28 1035.01,180.32 1035.23,180.43 1035.44,180.61 1035.66,180.85 1035.87,181.17 1036.08,181.55 1036.30,181.98 1036.51,182.47 1036.72,183.01 1036.94,183.59 1037.15,184.20 1037.37,184.84 1037.58,185.49 1037.79,186.16 1038.01,186.84 1038.22,187.51 1038.43,188.16 1038.65,188.80 1038.86,189.41 1039.08,189.99 1039.29,190.53 1039.50,191.02 1039.72,191.45 1039.93,191.83 1040.14,192.15 1040.36,192.39 1040.57,192.57 1040.79,192.68 1041.00,192.72 1041.22,192.68 1041.43,192.57 1041.65,192.38 1041.86,192.13 1042.08,191.80 1042.29,191.42 1042.51,190.98 1042.72,190.49 1042.94,189.95 1043.15,189.38 1043.37,188.79 1043.58,188.17 1043.80,187.55 1044.02,186.93 1044.23,186.31 1044.45,185.72 1044.66,185.15 1044.88,184.61 1045.09,184.12 1045.31,183.68 1045.52,183.30 1045.74,182.97 1045.95,182.72 1046.17,182.53 1046.38,182.42 1046.60,182.38 1046.82,182.40 1047.04,182.47 1047.26,182.59 1047.47,182.75 1047.69,182.96 1047.91,183.21 1048.13,183.50 1048.35,183.82 1048.57,184.18 1048.79,184.57 1049.01,184.98 1049.22,185.42 1049.44,185.87 1049.66,186.34 1049.88,186.82 1050.10,187.30 1050.32,187.78 1050.54,188.26 1050.76,188.73 1050.97,189.18 1051.19,189.62 1051.41,190.03 1051.63,190.42 1051.85,190.78 1052.07,191.10 1052.29,191.39 1052.51,191.64 1052.72,191.85 1052.94,192.01 1053.16,192.13 1053.38,192.20 1053.60,192.22 1053.82,192.18 1054.04,192.06 1054.26,191.86 1054.48,191.58 1054.70,191.23 1054.92,190.82 1055.14,190.35 1055.36,189.82 1055.58,189.25 1055.80,188.65 1056.02,188.02 1056.24,187.37 1056.46,186.73 1056.68,186.08 1056.90,185.45 1057.12,184.85 1057.34,184.28 1057.56,183.75 1057.78,183.28 1058.00,182.87 1058.22,182.52 1058.44,182.24 1058.66,182.04 1058.88,181.92 1059.10,181.88 1059.32,181.91 1059.53,182.00 1059.75,182.15 1059.97,182.36 1060.19,182.62 1060.40,182.93 1060.62,183.30 1060.84,183.70 1061.06,184.15 1061.27,184.63 1061.49,185.14 1061.71,185.67 1061.92,186.21 1062.14,186.77 1062.36,187.33 1062.58,187.89 1062.79,188.43 1063.01,188.96 1063.23,189.47 1063.44,189.95 1063.66,190.40 1063.88,190.80 1064.10,191.17 1064.31,191.48 1064.53,191.74 1064.75,191.95 1064.97,192.10 1065.18,192.19 1065.40,192.22 1065.62,192.19 1065.84,192.11 1066.06,191.98 1066.28,191.79 1066.50,191.56 1066.72,191.28 1066.94,190.96 1067.16,190.59 1067.38,190.19 1067.60,189.76 1067.82,189.30 1068.04,188.82 1068.26,188.32 1068.48,187.81 1068.70,187.30 1068.92,186.79 1069.14,186.28 1069.36,185.78 1069.58,185.30 1069.80,184.84 1070.02,184.41 1070.24,184.01 1070.46,183.64 1070.68,183.32 1070.90,183.04 1071.12,182.81 1071.34,182.62 1071.56,182.49 1071.78,182.41 1072.00,182.38 1072.21,182.43 1072.43,182.58 1072.64,182.82 1072.85,183.16 1073.07,183.58 1073.28,184.08 1073.50,184.64 1073.71,185.26 1073.92,185.91 1074.14,186.60 1074.35,187.30 1074.56,188.00 1074.78,188.69 1074.99,189.34 1075.20,189.96 1075.42,190.52 1075.63,191.02 1075.85,191.44 1076.06,191.78 1076.27,192.02 1076.49,192.17 1076.70,192.22 1076.92,192.15 1077.13,191.95 1077.35,191.63 1077.56,191.18 1077.78,190.63 1077.99,189.99 1078.21,189.28 1078.43,188.51 1078.64,187.71 1078.86,186.89 1079.07,186.09 1079.29,185.32 1079.51,184.61 1079.72,183.97 1079.94,183.42 1080.15,182.97 1080.37,182.65 1080.58,182.45 1080.80,182.38 1081.00,182.44 1081.20,182.61 1081.40,182.86 1081.60,183.15 1081.80,183.44 1082.00,183.69 1082.20,183.86 1082.40,183.92 1082.60,183.57 1082.80,182.58 1083.00,181.14 1083.20,179.56 1083.40,178.12 1083.60,177.13 1083.80,176.78 1084.01,177.02 1084.22,177.71 1084.42,178.82 1084.63,180.26 1084.84,181.95 1085.05,183.75 1085.26,185.55 1085.47,187.23 1085.67,188.68 1085.88,189.79 1086.09,190.48 1086.30,190.72 1086.51,190.66 1086.72,190.48 1086.94,190.21 1087.15,189.90 1087.36,189.59 1087.58,189.32 1087.79,189.14 1088.00,189.08 1088.20,189.08 1088.40,189.06 1088.60,189.05 1088.80,189.02 1089.00,189.00 1089.20,188.98 1089.40,188.95 1089.60,188.94 1089.80,188.92 1090.00,188.92 1090.21,188.90 1090.42,188.83 1090.64,188.72 1090.85,188.56 1091.06,188.37 1091.28,188.14 1091.49,187.88 1091.70,187.59 1091.91,187.27 1092.12,186.94 1092.34,186.60 1092.55,186.25 1092.76,185.90 1092.97,185.56 1093.19,185.23 1093.40,184.92 1093.61,184.62 1093.82,184.36 1094.04,184.13 1094.25,183.94 1094.46,183.78 1094.67,183.67 1094.89,183.60 1095.10,183.58 1095.31,183.59 1095.51,183.63 1095.72,183.68 1095.93,183.75 1096.14,183.84 1096.34,183.94 1096.55,184.04 1096.76,184.14 1096.96,184.24 1097.17,184.33 1097.38,184.40 1097.59,184.45 1097.79,184.49 1098.00,184.50 1098.21,184.54 1098.42,184.66 1098.64,184.86 1098.85,185.12 1099.06,185.44 1099.28,185.80 1099.49,186.20 1099.70,186.61 1099.91,187.02 1100.12,187.42 1100.34,187.78 1100.55,188.10 1100.76,188.36 1100.98,188.56 1101.19,188.68 1101.40,188.72 1101.62,188.70 1101.83,188.64 1102.05,188.55 1102.27,188.44 1102.48,188.30 1102.70,188.15 1102.92,188.00 1103.13,187.87 1103.35,187.75 1103.57,187.66 1103.78,187.60 1104.00,187.58 1104.20,187.58 1104.40,187.56 1104.60,187.55 1104.80,187.52 1105.00,187.50 1105.20,187.48 1105.40,187.45 1105.60,187.44 1105.80,187.42 1106.00,187.42 1106.21,187.39 1106.42,187.30 1106.64,187.16 1106.85,187.00 1107.06,186.84 1107.28,186.70 1107.49,186.61 1107.70,186.58 1107.91,186.57 1108.12,186.53 1108.33,186.47 1108.54,186.39 1108.75,186.30 1108.95,186.20 1109.16,186.11 1109.37,186.03 1109.58,185.97 1109.79,185.93 1110.00,185.92 1110.20,185.95 1110.40,186.03 1110.60,186.16 1110.80,186.32 1111.00,186.50 1111.20,186.68 1111.40,186.84 1111.60,186.97 1111.80,187.05 1112.00,187.08 1112.20,187.09 1112.40,187.13 1112.60,187.19 1112.80,187.26 1113.00,187.34 1113.20,187.42 1113.40,187.49 1113.60,187.55 1113.80,187.59 1114.00,187.60" fill="none" stroke="#D95319" stroke-width="2.4" stroke-linejoin="round" stroke-linecap="round"/>
<path d="M203.11,347 v-11.4 M203.11,26 v11.4 M324.22,347 v-11.4 M324.22,26 v11.4 M445.33,347 v-11.4 M445.33,26 v11.4 M566.44,347 v-11.4 M566.44,26 v11.4 M687.56,347 v-11.4 M687.56,26 v11.4 M808.67,347 v-11.4 M808.67,26 v11.4 M929.78,347 v-11.4 M929.78,26 v11.4 M1050.89,347 v-11.4 M1050.89,26 v11.4 M82,66.12 h11.4 M1172,66.12 h-11.4 M82,106.25 h11.4 M1172,106.25 h-11.4 M82,146.38 h11.4 M1172,146.38 h-11.4 M82,186.50 h11.4 M1172,186.50 h-11.4 M82,226.62 h11.4 M1172,226.62 h-11.4 M82,266.75 h11.4 M1172,266.75 h-11.4 M82,306.88 h11.4 M1172,306.88 h-11.4" stroke="#262626" stroke-width="1.2" fill="none" stroke-opacity="0.85"/>
<rect x="82" y="26" width="1090" height="321" fill="none" stroke="#262626" stroke-width="1.2" stroke-opacity="0.85"/>
<g font-family="'Liberation Sans', Arial, Helvetica, sans-serif" font-size="19.6" fill="#262626" fill-opacity="0.88">
<text x="82.00" y="371.5" text-anchor="middle">0</text>
<text x="203.11" y="371.5" text-anchor="middle">0.05</text>
<text x="324.22" y="371.5" text-anchor="middle">0.1</text>
<text x="445.33" y="371.5" text-anchor="middle">0.15</text>
<text x="566.44" y="371.5" text-anchor="middle">0.2</text>
<text x="687.56" y="371.5" text-anchor="middle">0.25</text>
<text x="808.67" y="371.5" text-anchor="middle">0.3</text>
<text x="929.78" y="371.5" text-anchor="middle">0.35</text>
<text x="1050.89" y="371.5" text-anchor="middle">0.4</text>
<text x="1172.00" y="371.5" text-anchor="middle">0.45</text>
<text x="75" y="33.00" text-anchor="end">0.2</text>
<text x="75" y="73.12" text-anchor="end">0.15</text>
<text x="75" y="113.25" text-anchor="end">0.1</text>
<text x="75" y="153.38" text-anchor="end">0.05</text>
<text x="75" y="193.50" text-anchor="end">0</text>
<text x="75" y="233.62" text-anchor="end">-0.05</text>
<text x="75" y="273.75" text-anchor="end">-0.1</text>
<text x="75" y="313.88" text-anchor="end">-0.15</text>
<text x="75" y="354.00" text-anchor="end">-0.2</text>
</g>
<text x="627" y="397.5" text-anchor="middle" font-family="'Liberation Sans', Arial, Helvetica, sans-serif" font-size="21.5" fill="#262626" fill-opacity="0.88">Time (s)</text>
<text transform="translate(18.5,186.5) rotate(-90)" text-anchor="middle" font-family="'Liberation Sans', Arial, Helvetica, sans-serif" font-size="21.5" fill="#262626" fill-opacity="0.88">Amplitude</text>
<text x="627.3" y="17.5" text-anchor="middle" font-family="'Liberation Sans', Arial, Helvetica, sans-serif" font-size="21.8" font-weight="bold" fill="#000" fill-opacity="0.9">GEN-003-084-0006</text>
</svg>
</body></html>
